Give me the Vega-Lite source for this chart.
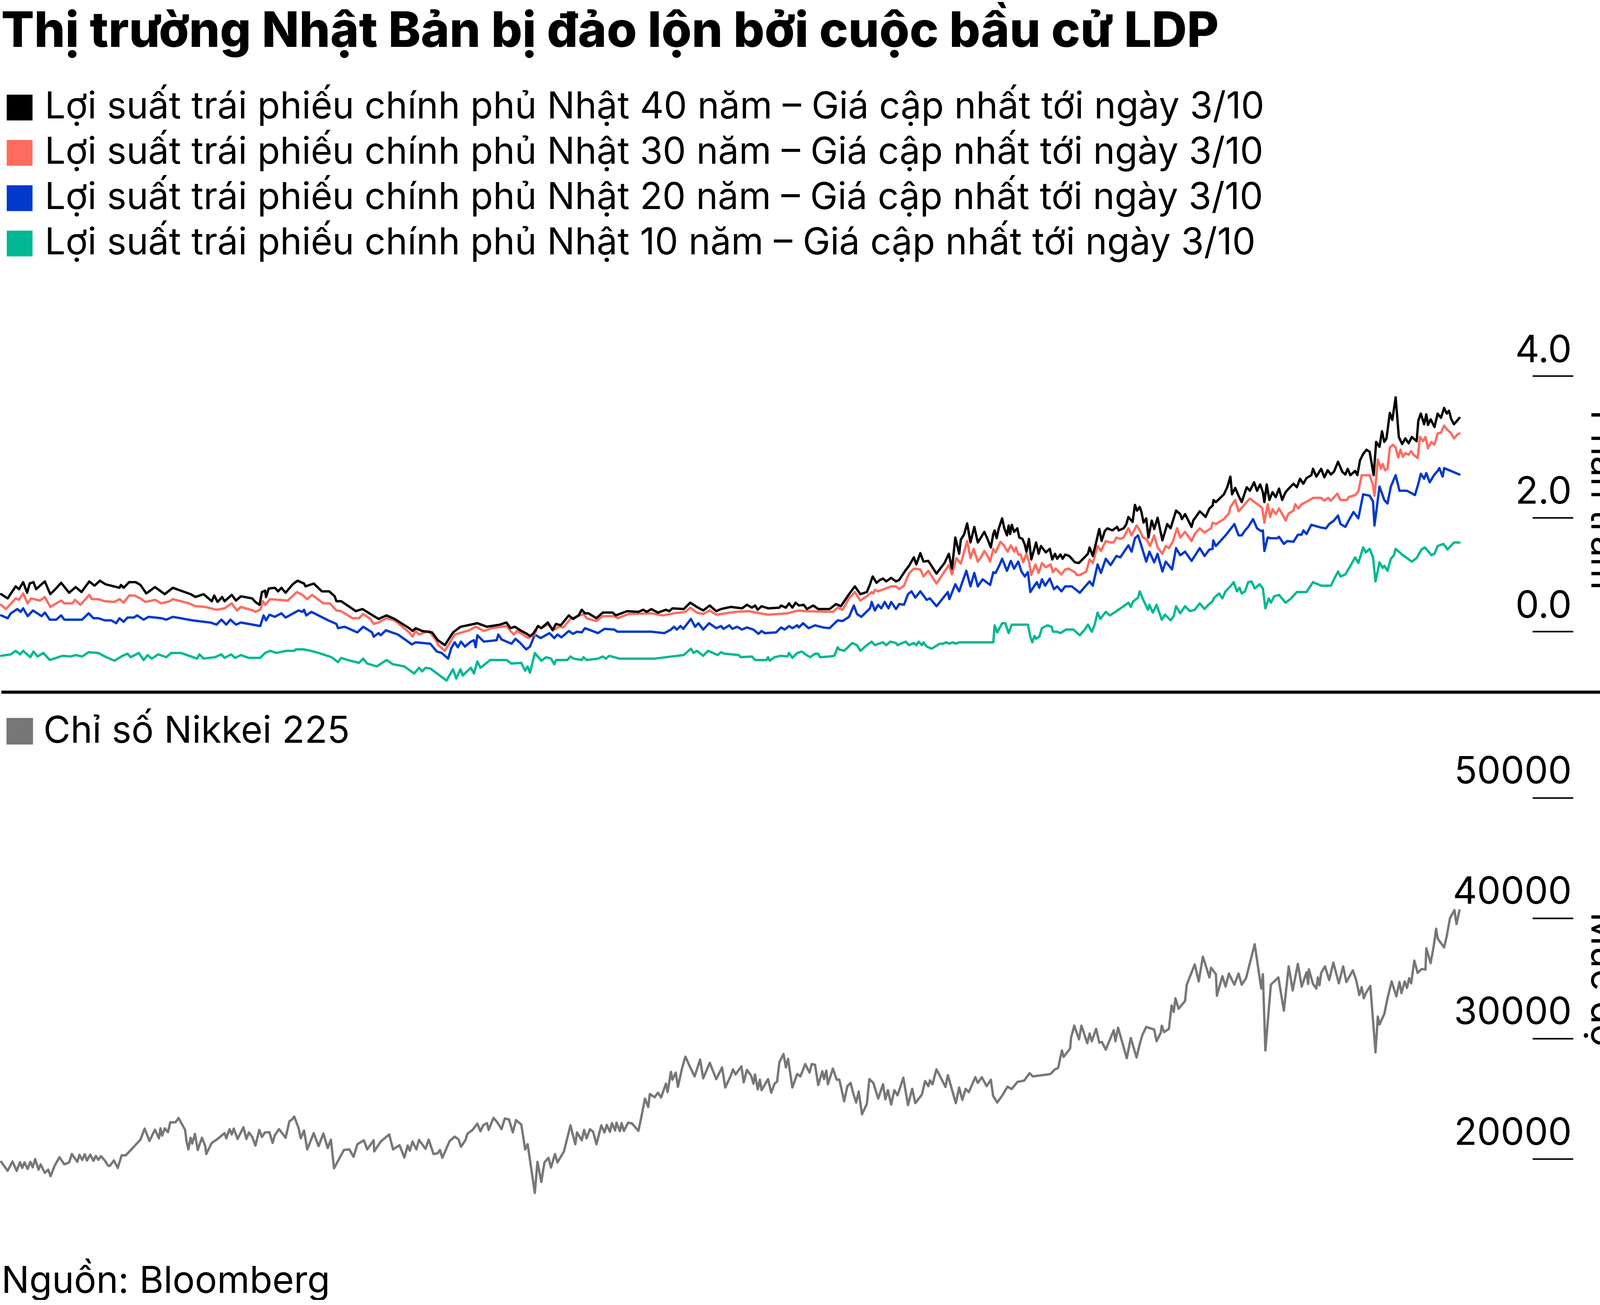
{
  "$schema": "https://vega.github.io/schema/vega-lite/v6.json",
  "description": "Lợi suất trái phiếu chính phủ Nhật và chỉ số Nikkei 225, 2017 - 3/10/2025",
  "padding": {"top": 20, "left": 0, "right": 0, "bottom": 0},
  "background": "white",
  "title": {
    "text": "Thị trường Nhật Bản bị đảo lộn bởi cuộc bầu cử LDP",
    "anchor": "start",
    "frame": "group",
    "font": "Inter",
    "fontSize": 125,
    "fontWeight": 800,
    "color": "#000000",
    "baseline": "top",
    "offset": 82
  },
  "config": {
    "view": {"stroke": null},
    "font": "Inter"
  },
  "spacing": 240,
  "bounds": "flush",
  "resolve": {
    "scale": {"color": "independent", "y": "independent", "x": "independent"},
    "legend": {"color": "independent"}
  },
  "datasets": {
    "loisuat": [
      {"nam": 2017.000, "ky": "10", "ls": 0.05},
      {"nam": 2017.058, "ky": "10", "ls": 0.07},
      {"nam": 2017.087, "ky": "10", "ls": 0.12},
      {"nam": 2017.113, "ky": "10", "ls": 0.07},
      {"nam": 2017.132, "ky": "10", "ls": 0.12},
      {"nam": 2017.175, "ky": "10", "ls": 0.03},
      {"nam": 2017.194, "ky": "10", "ls": 0.11},
      {"nam": 2017.218, "ky": "10", "ls": 0.04},
      {"nam": 2017.253, "ky": "10", "ls": 0.09},
      {"nam": 2017.292, "ky": "10", "ls": -0.01},
      {"nam": 2017.330, "ky": "10", "ls": 0.02},
      {"nam": 2017.369, "ky": "10", "ls": 0.05},
      {"nam": 2017.418, "ky": "10", "ls": 0.04},
      {"nam": 2017.447, "ky": "10", "ls": 0.06},
      {"nam": 2017.486, "ky": "10", "ls": 0.04},
      {"nam": 2017.525, "ky": "10", "ls": 0.10},
      {"nam": 2017.583, "ky": "10", "ls": 0.09},
      {"nam": 2017.622, "ky": "10", "ls": 0.04},
      {"nam": 2017.680, "ky": "10", "ls": -0.02},
      {"nam": 2017.729, "ky": "10", "ls": 0.05},
      {"nam": 2017.758, "ky": "10", "ls": 0.08},
      {"nam": 2017.778, "ky": "10", "ls": 0.03},
      {"nam": 2017.826, "ky": "10", "ls": 0.09},
      {"nam": 2017.855, "ky": "10", "ls": -0.01},
      {"nam": 2017.879, "ky": "10", "ls": 0.06},
      {"nam": 2017.904, "ky": "10", "ls": 0.01},
      {"nam": 2017.943, "ky": "10", "ls": 0.07},
      {"nam": 2017.991, "ky": "10", "ls": 0.03},
      {"nam": 2018.021, "ky": "10", "ls": 0.09},
      {"nam": 2018.079, "ky": "10", "ls": 0.09},
      {"nam": 2018.128, "ky": "10", "ls": 0.05},
      {"nam": 2018.176, "ky": "10", "ls": 0.01},
      {"nam": 2018.190, "ky": "10", "ls": 0.07},
      {"nam": 2018.215, "ky": "10", "ls": 0.01},
      {"nam": 2018.283, "ky": "10", "ls": 0.03},
      {"nam": 2018.322, "ky": "10", "ls": 0.07},
      {"nam": 2018.341, "ky": "10", "ls": 0.02},
      {"nam": 2018.380, "ky": "10", "ls": 0.07},
      {"nam": 2018.404, "ky": "10", "ls": 0.02},
      {"nam": 2018.439, "ky": "10", "ls": 0.06},
      {"nam": 2018.487, "ky": "10", "ls": 0.02},
      {"nam": 2018.555, "ky": "10", "ls": 0.02},
      {"nam": 2018.584, "ky": "10", "ls": 0.09},
      {"nam": 2018.614, "ky": "10", "ls": 0.12},
      {"nam": 2018.652, "ky": "10", "ls": 0.09},
      {"nam": 2018.711, "ky": "10", "ls": 0.12},
      {"nam": 2018.759, "ky": "10", "ls": 0.12},
      {"nam": 2018.769, "ky": "10", "ls": 0.14},
      {"nam": 2018.818, "ky": "10", "ls": 0.14},
      {"nam": 2018.857, "ky": "10", "ls": 0.12},
      {"nam": 2018.905, "ky": "10", "ls": 0.09},
      {"nam": 2018.983, "ky": "10", "ls": 0.03},
      {"nam": 2019.022, "ky": "10", "ls": -0.04},
      {"nam": 2019.041, "ky": "10", "ls": 0.02},
      {"nam": 2019.080, "ky": "10", "ls": -0.01},
      {"nam": 2019.148, "ky": "10", "ls": -0.05},
      {"nam": 2019.173, "ky": "10", "ls": 0.01},
      {"nam": 2019.197, "ky": "10", "ls": -0.06},
      {"nam": 2019.255, "ky": "10", "ls": -0.10},
      {"nam": 2019.313, "ky": "10", "ls": -0.01},
      {"nam": 2019.352, "ky": "10", "ls": -0.07},
      {"nam": 2019.420, "ky": "10", "ls": -0.10},
      {"nam": 2019.479, "ky": "10", "ls": -0.20},
      {"nam": 2019.508, "ky": "10", "ls": -0.12},
      {"nam": 2019.527, "ky": "10", "ls": -0.17},
      {"nam": 2019.547, "ky": "10", "ls": -0.12},
      {"nam": 2019.576, "ky": "10", "ls": -0.13},
      {"nam": 2019.673, "ky": "10", "ls": -0.30},
      {"nam": 2019.712, "ky": "10", "ls": -0.14},
      {"nam": 2019.731, "ky": "10", "ls": -0.27},
      {"nam": 2019.757, "ky": "10", "ls": -0.14},
      {"nam": 2019.770, "ky": "10", "ls": -0.23},
      {"nam": 2019.819, "ky": "10", "ls": -0.12},
      {"nam": 2019.838, "ky": "10", "ls": -0.20},
      {"nam": 2019.858, "ky": "10", "ls": -0.03},
      {"nam": 2019.877, "ky": "10", "ls": -0.12},
      {"nam": 2019.935, "ky": "10", "ls": -0.01},
      {"nam": 2019.994, "ky": "10", "ls": -0.01},
      {"nam": 2020.033, "ky": "10", "ls": -0.01},
      {"nam": 2020.063, "ky": "10", "ls": -0.06},
      {"nam": 2020.122, "ky": "10", "ls": -0.05},
      {"nam": 2020.145, "ky": "10", "ls": -0.16},
      {"nam": 2020.160, "ky": "10", "ls": -0.10},
      {"nam": 2020.174, "ky": "10", "ls": -0.19},
      {"nam": 2020.203, "ky": "10", "ls": 0.09},
      {"nam": 2020.242, "ky": "10", "ls": -0.02},
      {"nam": 2020.271, "ky": "10", "ls": 0.03},
      {"nam": 2020.300, "ky": "10", "ls": 0.01},
      {"nam": 2020.320, "ky": "10", "ls": -0.07},
      {"nam": 2020.330, "ky": "10", "ls": -0.01},
      {"nam": 2020.398, "ky": "10", "ls": -0.01},
      {"nam": 2020.417, "ky": "10", "ls": 0.04},
      {"nam": 2020.436, "ky": "10", "ls": 0.01},
      {"nam": 2020.485, "ky": "10", "ls": -0.01},
      {"nam": 2020.495, "ky": "10", "ls": 0.03},
      {"nam": 2020.514, "ky": "10", "ls": -0.01},
      {"nam": 2020.582, "ky": "10", "ls": 0.01},
      {"nam": 2020.611, "ky": "10", "ls": 0.04},
      {"nam": 2020.631, "ky": "10", "ls": 0.01},
      {"nam": 2020.650, "ky": "10", "ls": 0.05},
      {"nam": 2020.709, "ky": "10", "ls": 0.01},
      {"nam": 2020.922, "ky": "10", "ls": 0.01},
      {"nam": 2021.097, "ky": "10", "ls": 0.06},
      {"nam": 2021.140, "ky": "10", "ls": 0.15},
      {"nam": 2021.156, "ky": "10", "ls": 0.09},
      {"nam": 2021.175, "ky": "10", "ls": 0.12},
      {"nam": 2021.214, "ky": "10", "ls": 0.05},
      {"nam": 2021.243, "ky": "10", "ls": 0.12},
      {"nam": 2021.301, "ky": "10", "ls": 0.06},
      {"nam": 2021.321, "ky": "10", "ls": 0.10},
      {"nam": 2021.340, "ky": "10", "ls": 0.08},
      {"nam": 2021.428, "ky": "10", "ls": 0.06},
      {"nam": 2021.438, "ky": "10", "ls": 0.03},
      {"nam": 2021.506, "ky": "10", "ls": 0.04},
      {"nam": 2021.525, "ky": "10", "ls": -0.01},
      {"nam": 2021.593, "ky": "10", "ls": -0.01},
      {"nam": 2021.603, "ky": "10", "ls": 0.03},
      {"nam": 2021.613, "ky": "10", "ls": -0.02},
      {"nam": 2021.642, "ky": "10", "ls": 0.03},
      {"nam": 2021.681, "ky": "10", "ls": 0.05},
      {"nam": 2021.719, "ky": "10", "ls": 0.04},
      {"nam": 2021.729, "ky": "10", "ls": 0.09},
      {"nam": 2021.749, "ky": "10", "ls": 0.02},
      {"nam": 2021.778, "ky": "10", "ls": 0.09},
      {"nam": 2021.807, "ky": "10", "ls": 0.11},
      {"nam": 2021.827, "ky": "10", "ls": 0.07},
      {"nam": 2021.856, "ky": "10", "ls": 0.03},
      {"nam": 2021.885, "ky": "10", "ls": 0.08},
      {"nam": 2021.904, "ky": "10", "ls": 0.08},
      {"nam": 2021.914, "ky": "10", "ls": 0.03},
      {"nam": 2021.972, "ky": "10", "ls": 0.04},
      {"nam": 2022.001, "ky": "10", "ls": 0.05},
      {"nam": 2022.021, "ky": "10", "ls": 0.17},
      {"nam": 2022.031, "ky": "10", "ls": 0.14},
      {"nam": 2022.060, "ky": "10", "ls": 0.12},
      {"nam": 2022.108, "ky": "10", "ls": 0.23},
      {"nam": 2022.137, "ky": "10", "ls": 0.20},
      {"nam": 2022.157, "ky": "10", "ls": 0.12},
      {"nam": 2022.196, "ky": "10", "ls": 0.20},
      {"nam": 2022.225, "ky": "10", "ls": 0.25},
      {"nam": 2022.244, "ky": "10", "ls": 0.20},
      {"nam": 2022.293, "ky": "10", "ls": 0.24},
      {"nam": 2022.312, "ky": "10", "ls": 0.20},
      {"nam": 2022.338, "ky": "10", "ls": 0.25},
      {"nam": 2022.371, "ky": "10", "ls": 0.23},
      {"nam": 2022.380, "ky": "10", "ls": 0.20},
      {"nam": 2022.410, "ky": "10", "ls": 0.23},
      {"nam": 2022.429, "ky": "10", "ls": 0.25},
      {"nam": 2022.449, "ky": "10", "ls": 0.20},
      {"nam": 2022.478, "ky": "10", "ls": 0.23},
      {"nam": 2022.493, "ky": "10", "ls": 0.20},
      {"nam": 2022.507, "ky": "10", "ls": 0.25},
      {"nam": 2022.526, "ky": "10", "ls": 0.20},
      {"nam": 2022.536, "ky": "10", "ls": 0.24},
      {"nam": 2022.555, "ky": "10", "ls": 0.18},
      {"nam": 2022.585, "ky": "10", "ls": 0.15},
      {"nam": 2022.633, "ky": "10", "ls": 0.22},
      {"nam": 2022.653, "ky": "10", "ls": 0.22},
      {"nam": 2022.672, "ky": "10", "ls": 0.24},
      {"nam": 2022.691, "ky": "10", "ls": 0.22},
      {"nam": 2022.711, "ky": "10", "ls": 0.24},
      {"nam": 2022.730, "ky": "10", "ls": 0.22},
      {"nam": 2022.750, "ky": "10", "ls": 0.24},
      {"nam": 2022.862, "ky": "10", "ls": 0.24},
      {"nam": 2022.955, "ky": "10", "ls": 0.24},
      {"nam": 2022.963, "ky": "10", "ls": 0.48},
      {"nam": 2022.979, "ky": "10", "ls": 0.38},
      {"nam": 2023.008, "ky": "10", "ls": 0.51},
      {"nam": 2023.027, "ky": "10", "ls": 0.51},
      {"nam": 2023.047, "ky": "10", "ls": 0.37},
      {"nam": 2023.066, "ky": "10", "ls": 0.49},
      {"nam": 2023.163, "ky": "10", "ls": 0.49},
      {"nam": 2023.177, "ky": "10", "ls": 0.32},
      {"nam": 2023.189, "ky": "10", "ls": 0.24},
      {"nam": 2023.202, "ky": "10", "ls": 0.33},
      {"nam": 2023.212, "ky": "10", "ls": 0.29},
      {"nam": 2023.231, "ky": "10", "ls": 0.32},
      {"nam": 2023.247, "ky": "10", "ls": 0.44},
      {"nam": 2023.280, "ky": "10", "ls": 0.48},
      {"nam": 2023.305, "ky": "10", "ls": 0.46},
      {"nam": 2023.313, "ky": "10", "ls": 0.39},
      {"nam": 2023.338, "ky": "10", "ls": 0.39},
      {"nam": 2023.358, "ky": "10", "ls": 0.37},
      {"nam": 2023.391, "ky": "10", "ls": 0.42},
      {"nam": 2023.435, "ky": "10", "ls": 0.42},
      {"nam": 2023.474, "ky": "10", "ls": 0.34},
      {"nam": 2023.504, "ky": "10", "ls": 0.42},
      {"nam": 2023.523, "ky": "10", "ls": 0.49},
      {"nam": 2023.546, "ky": "10", "ls": 0.39},
      {"nam": 2023.562, "ky": "10", "ls": 0.48},
      {"nam": 2023.581, "ky": "10", "ls": 0.66},
      {"nam": 2023.597, "ky": "10", "ls": 0.57},
      {"nam": 2023.630, "ky": "10", "ls": 0.67},
      {"nam": 2023.655, "ky": "10", "ls": 0.62},
      {"nam": 2023.688, "ky": "10", "ls": 0.67},
      {"nam": 2023.737, "ky": "10", "ls": 0.75},
      {"nam": 2023.766, "ky": "10", "ls": 0.80},
      {"nam": 2023.780, "ky": "10", "ls": 0.74},
      {"nam": 2023.795, "ky": "10", "ls": 0.82},
      {"nam": 2023.824, "ky": "10", "ls": 0.87},
      {"nam": 2023.834, "ky": "10", "ls": 0.96},
      {"nam": 2023.853, "ky": "10", "ls": 0.85},
      {"nam": 2023.883, "ky": "10", "ls": 0.70},
      {"nam": 2023.892, "ky": "10", "ls": 0.77},
      {"nam": 2023.912, "ky": "10", "ls": 0.66},
      {"nam": 2023.935, "ky": "10", "ls": 0.77},
      {"nam": 2023.966, "ky": "10", "ls": 0.56},
      {"nam": 2023.986, "ky": "10", "ls": 0.63},
      {"nam": 2024.019, "ky": "10", "ls": 0.55},
      {"nam": 2024.038, "ky": "10", "ls": 0.61},
      {"nam": 2024.052, "ky": "10", "ls": 0.75},
      {"nam": 2024.077, "ky": "10", "ls": 0.65},
      {"nam": 2024.106, "ky": "10", "ls": 0.75},
      {"nam": 2024.135, "ky": "10", "ls": 0.68},
      {"nam": 2024.164, "ky": "10", "ls": 0.70},
      {"nam": 2024.194, "ky": "10", "ls": 0.79},
      {"nam": 2024.223, "ky": "10", "ls": 0.71},
      {"nam": 2024.246, "ky": "10", "ls": 0.77},
      {"nam": 2024.271, "ky": "10", "ls": 0.82},
      {"nam": 2024.281, "ky": "10", "ls": 0.87},
      {"nam": 2024.310, "ky": "10", "ls": 0.93},
      {"nam": 2024.330, "ky": "10", "ls": 0.86},
      {"nam": 2024.349, "ky": "10", "ls": 0.96},
      {"nam": 2024.378, "ky": "10", "ls": 1.03},
      {"nam": 2024.398, "ky": "10", "ls": 1.09},
      {"nam": 2024.417, "ky": "10", "ls": 0.96},
      {"nam": 2024.433, "ky": "10", "ls": 1.01},
      {"nam": 2024.446, "ky": "10", "ls": 0.93},
      {"nam": 2024.466, "ky": "10", "ls": 0.96},
      {"nam": 2024.485, "ky": "10", "ls": 1.09},
      {"nam": 2024.505, "ky": "10", "ls": 1.10},
      {"nam": 2024.524, "ky": "10", "ls": 1.00},
      {"nam": 2024.553, "ky": "10", "ls": 1.06},
      {"nam": 2024.573, "ky": "10", "ls": 1.00},
      {"nam": 2024.588, "ky": "10", "ls": 0.72},
      {"nam": 2024.608, "ky": "10", "ls": 0.86},
      {"nam": 2024.621, "ky": "10", "ls": 0.80},
      {"nam": 2024.641, "ky": "10", "ls": 0.89},
      {"nam": 2024.670, "ky": "10", "ls": 0.91},
      {"nam": 2024.709, "ky": "10", "ls": 0.80},
      {"nam": 2024.738, "ky": "10", "ls": 0.85},
      {"nam": 2024.777, "ky": "10", "ls": 0.95},
      {"nam": 2024.835, "ky": "10", "ls": 0.95},
      {"nam": 2024.874, "ky": "10", "ls": 1.09},
      {"nam": 2024.923, "ky": "10", "ls": 1.04},
      {"nam": 2024.981, "ky": "10", "ls": 1.04},
      {"nam": 2025.000, "ky": "10", "ls": 1.13},
      {"nam": 2025.024, "ky": "10", "ls": 1.24},
      {"nam": 2025.039, "ky": "10", "ls": 1.17},
      {"nam": 2025.068, "ky": "10", "ls": 1.20},
      {"nam": 2025.098, "ky": "10", "ls": 1.32},
      {"nam": 2025.127, "ky": "10", "ls": 1.44},
      {"nam": 2025.146, "ky": "10", "ls": 1.36},
      {"nam": 2025.175, "ky": "10", "ls": 1.58},
      {"nam": 2025.191, "ky": "10", "ls": 1.51},
      {"nam": 2025.214, "ky": "10", "ls": 1.56},
      {"nam": 2025.234, "ky": "10", "ls": 1.44},
      {"nam": 2025.249, "ky": "10", "ls": 1.10},
      {"nam": 2025.273, "ky": "10", "ls": 1.37},
      {"nam": 2025.292, "ky": "10", "ls": 1.29},
      {"nam": 2025.302, "ky": "10", "ls": 1.32},
      {"nam": 2025.321, "ky": "10", "ls": 1.25},
      {"nam": 2025.341, "ky": "10", "ls": 1.42},
      {"nam": 2025.360, "ky": "10", "ls": 1.47},
      {"nam": 2025.370, "ky": "10", "ls": 1.56},
      {"nam": 2025.409, "ky": "10", "ls": 1.48},
      {"nam": 2025.438, "ky": "10", "ls": 1.43},
      {"nam": 2025.467, "ky": "10", "ls": 1.38},
      {"nam": 2025.496, "ky": "10", "ls": 1.43},
      {"nam": 2025.525, "ky": "10", "ls": 1.55},
      {"nam": 2025.545, "ky": "10", "ls": 1.58},
      {"nam": 2025.564, "ky": "10", "ls": 1.53},
      {"nam": 2025.584, "ky": "10", "ls": 1.47},
      {"nam": 2025.603, "ky": "10", "ls": 1.49},
      {"nam": 2025.622, "ky": "10", "ls": 1.60},
      {"nam": 2025.657, "ky": "10", "ls": 1.63},
      {"nam": 2025.681, "ky": "10", "ls": 1.55},
      {"nam": 2025.720, "ky": "10", "ls": 1.65},
      {"nam": 2025.753, "ky": "10", "ls": 1.65},

      {"nam": 2017.000, "ky": "20", "ls": 0.62},
      {"nam": 2017.039, "ky": "20", "ls": 0.58},
      {"nam": 2017.058, "ky": "20", "ls": 0.65},
      {"nam": 2017.097, "ky": "20", "ls": 0.71},
      {"nam": 2017.117, "ky": "20", "ls": 0.67},
      {"nam": 2017.132, "ky": "20", "ls": 0.72},
      {"nam": 2017.159, "ky": "20", "ls": 0.61},
      {"nam": 2017.191, "ky": "20", "ls": 0.69},
      {"nam": 2017.243, "ky": "20", "ls": 0.61},
      {"nam": 2017.262, "ky": "20", "ls": 0.66},
      {"nam": 2017.292, "ky": "20", "ls": 0.56},
      {"nam": 2017.330, "ky": "20", "ls": 0.56},
      {"nam": 2017.360, "ky": "20", "ls": 0.62},
      {"nam": 2017.379, "ky": "20", "ls": 0.56},
      {"nam": 2017.486, "ky": "20", "ls": 0.56},
      {"nam": 2017.525, "ky": "20", "ls": 0.65},
      {"nam": 2017.554, "ky": "20", "ls": 0.58},
      {"nam": 2017.583, "ky": "20", "ls": 0.58},
      {"nam": 2017.622, "ky": "20", "ls": 0.55},
      {"nam": 2017.661, "ky": "20", "ls": 0.55},
      {"nam": 2017.690, "ky": "20", "ls": 0.51},
      {"nam": 2017.710, "ky": "20", "ls": 0.58},
      {"nam": 2017.735, "ky": "20", "ls": 0.53},
      {"nam": 2017.758, "ky": "20", "ls": 0.59},
      {"nam": 2017.797, "ky": "20", "ls": 0.59},
      {"nam": 2017.816, "ky": "20", "ls": 0.62},
      {"nam": 2017.855, "ky": "20", "ls": 0.56},
      {"nam": 2017.885, "ky": "20", "ls": 0.60},
      {"nam": 2017.962, "ky": "20", "ls": 0.58},
      {"nam": 2017.991, "ky": "20", "ls": 0.56},
      {"nam": 2018.030, "ky": "20", "ls": 0.60},
      {"nam": 2018.079, "ky": "20", "ls": 0.58},
      {"nam": 2018.147, "ky": "20", "ls": 0.55},
      {"nam": 2018.254, "ky": "20", "ls": 0.52},
      {"nam": 2018.293, "ky": "20", "ls": 0.49},
      {"nam": 2018.322, "ky": "20", "ls": 0.56},
      {"nam": 2018.351, "ky": "20", "ls": 0.49},
      {"nam": 2018.376, "ky": "20", "ls": 0.56},
      {"nam": 2018.409, "ky": "20", "ls": 0.49},
      {"nam": 2018.439, "ky": "20", "ls": 0.52},
      {"nam": 2018.555, "ky": "20", "ls": 0.47},
      {"nam": 2018.575, "ky": "20", "ls": 0.62},
      {"nam": 2018.590, "ky": "20", "ls": 0.55},
      {"nam": 2018.610, "ky": "20", "ls": 0.63},
      {"nam": 2018.643, "ky": "20", "ls": 0.60},
      {"nam": 2018.682, "ky": "20", "ls": 0.65},
      {"nam": 2018.707, "ky": "20", "ls": 0.59},
      {"nam": 2018.785, "ky": "20", "ls": 0.69},
      {"nam": 2018.808, "ky": "20", "ls": 0.67},
      {"nam": 2018.818, "ky": "20", "ls": 0.70},
      {"nam": 2018.831, "ky": "20", "ls": 0.62},
      {"nam": 2018.862, "ky": "20", "ls": 0.67},
      {"nam": 2018.963, "ky": "20", "ls": 0.55},
      {"nam": 2019.012, "ky": "20", "ls": 0.50},
      {"nam": 2019.022, "ky": "20", "ls": 0.44},
      {"nam": 2019.061, "ky": "20", "ls": 0.46},
      {"nam": 2019.138, "ky": "20", "ls": 0.38},
      {"nam": 2019.173, "ky": "20", "ls": 0.46},
      {"nam": 2019.226, "ky": "20", "ls": 0.38},
      {"nam": 2019.236, "ky": "20", "ls": 0.32},
      {"nam": 2019.265, "ky": "20", "ls": 0.37},
      {"nam": 2019.278, "ky": "20", "ls": 0.34},
      {"nam": 2019.309, "ky": "20", "ls": 0.41},
      {"nam": 2019.381, "ky": "20", "ls": 0.35},
      {"nam": 2019.430, "ky": "20", "ls": 0.27},
      {"nam": 2019.465, "ky": "20", "ls": 0.21},
      {"nam": 2019.488, "ky": "20", "ls": 0.24},
      {"nam": 2019.576, "ky": "20", "ls": 0.22},
      {"nam": 2019.615, "ky": "20", "ls": 0.11},
      {"nam": 2019.644, "ky": "20", "ls": 0.09},
      {"nam": 2019.683, "ky": "20", "ls": 0.01},
      {"nam": 2019.702, "ky": "20", "ls": 0.16},
      {"nam": 2019.722, "ky": "20", "ls": 0.24},
      {"nam": 2019.741, "ky": "20", "ls": 0.17},
      {"nam": 2019.760, "ky": "20", "ls": 0.25},
      {"nam": 2019.784, "ky": "20", "ls": 0.18},
      {"nam": 2019.819, "ky": "20", "ls": 0.25},
      {"nam": 2019.838, "ky": "20", "ls": 0.27},
      {"nam": 2019.848, "ky": "20", "ls": 0.17},
      {"nam": 2019.858, "ky": "20", "ls": 0.34},
      {"nam": 2019.897, "ky": "20", "ls": 0.25},
      {"nam": 2019.974, "ky": "20", "ls": 0.27},
      {"nam": 2019.984, "ky": "20", "ls": 0.35},
      {"nam": 2020.004, "ky": "20", "ls": 0.28},
      {"nam": 2020.063, "ky": "20", "ls": 0.22},
      {"nam": 2020.087, "ky": "20", "ls": 0.29},
      {"nam": 2020.116, "ky": "20", "ls": 0.23},
      {"nam": 2020.151, "ky": "20", "ls": 0.14},
      {"nam": 2020.174, "ky": "20", "ls": 0.18},
      {"nam": 2020.203, "ky": "20", "ls": 0.35},
      {"nam": 2020.238, "ky": "20", "ls": 0.30},
      {"nam": 2020.291, "ky": "20", "ls": 0.37},
      {"nam": 2020.320, "ky": "20", "ls": 0.30},
      {"nam": 2020.339, "ky": "20", "ls": 0.35},
      {"nam": 2020.363, "ky": "20", "ls": 0.31},
      {"nam": 2020.407, "ky": "20", "ls": 0.40},
      {"nam": 2020.433, "ky": "20", "ls": 0.36},
      {"nam": 2020.456, "ky": "20", "ls": 0.39},
      {"nam": 2020.485, "ky": "20", "ls": 0.38},
      {"nam": 2020.504, "ky": "20", "ls": 0.44},
      {"nam": 2020.582, "ky": "20", "ls": 0.37},
      {"nam": 2020.621, "ky": "20", "ls": 0.43},
      {"nam": 2020.679, "ky": "20", "ls": 0.42},
      {"nam": 2020.699, "ky": "20", "ls": 0.39},
      {"nam": 2020.903, "ky": "20", "ls": 0.39},
      {"nam": 2020.981, "ky": "20", "ls": 0.37},
      {"nam": 2021.020, "ky": "20", "ls": 0.42},
      {"nam": 2021.039, "ky": "20", "ls": 0.46},
      {"nam": 2021.055, "ky": "20", "ls": 0.42},
      {"nam": 2021.078, "ky": "20", "ls": 0.47},
      {"nam": 2021.094, "ky": "20", "ls": 0.43},
      {"nam": 2021.140, "ky": "20", "ls": 0.57},
      {"nam": 2021.165, "ky": "20", "ls": 0.46},
      {"nam": 2021.185, "ky": "20", "ls": 0.51},
      {"nam": 2021.214, "ky": "20", "ls": 0.42},
      {"nam": 2021.249, "ky": "20", "ls": 0.51},
      {"nam": 2021.292, "ky": "20", "ls": 0.44},
      {"nam": 2021.321, "ky": "20", "ls": 0.47},
      {"nam": 2021.335, "ky": "20", "ls": 0.43},
      {"nam": 2021.370, "ky": "20", "ls": 0.48},
      {"nam": 2021.389, "ky": "20", "ls": 0.43},
      {"nam": 2021.418, "ky": "20", "ls": 0.46},
      {"nam": 2021.447, "ky": "20", "ls": 0.42},
      {"nam": 2021.476, "ky": "20", "ls": 0.45},
      {"nam": 2021.515, "ky": "20", "ls": 0.42},
      {"nam": 2021.545, "ky": "20", "ls": 0.36},
      {"nam": 2021.564, "ky": "20", "ls": 0.40},
      {"nam": 2021.583, "ky": "20", "ls": 0.37},
      {"nam": 2021.651, "ky": "20", "ls": 0.38},
      {"nam": 2021.681, "ky": "20", "ls": 0.45},
      {"nam": 2021.704, "ky": "20", "ls": 0.42},
      {"nam": 2021.729, "ky": "20", "ls": 0.47},
      {"nam": 2021.749, "ky": "20", "ls": 0.44},
      {"nam": 2021.778, "ky": "20", "ls": 0.48},
      {"nam": 2021.788, "ky": "20", "ls": 0.45},
      {"nam": 2021.813, "ky": "20", "ls": 0.51},
      {"nam": 2021.846, "ky": "20", "ls": 0.44},
      {"nam": 2021.885, "ky": "20", "ls": 0.48},
      {"nam": 2021.933, "ky": "20", "ls": 0.45},
      {"nam": 2021.972, "ky": "20", "ls": 0.44},
      {"nam": 2022.021, "ky": "20", "ls": 0.55},
      {"nam": 2022.050, "ky": "20", "ls": 0.54},
      {"nam": 2022.089, "ky": "20", "ls": 0.60},
      {"nam": 2022.118, "ky": "20", "ls": 0.76},
      {"nam": 2022.137, "ky": "20", "ls": 0.64},
      {"nam": 2022.163, "ky": "20", "ls": 0.60},
      {"nam": 2022.215, "ky": "20", "ls": 0.72},
      {"nam": 2022.225, "ky": "20", "ls": 0.81},
      {"nam": 2022.244, "ky": "20", "ls": 0.69},
      {"nam": 2022.264, "ky": "20", "ls": 0.77},
      {"nam": 2022.283, "ky": "20", "ls": 0.72},
      {"nam": 2022.303, "ky": "20", "ls": 0.81},
      {"nam": 2022.326, "ky": "20", "ls": 0.72},
      {"nam": 2022.342, "ky": "20", "ls": 0.81},
      {"nam": 2022.371, "ky": "20", "ls": 0.71},
      {"nam": 2022.390, "ky": "20", "ls": 0.78},
      {"nam": 2022.419, "ky": "20", "ls": 0.77},
      {"nam": 2022.443, "ky": "20", "ls": 0.92},
      {"nam": 2022.464, "ky": "20", "ls": 0.96},
      {"nam": 2022.487, "ky": "20", "ls": 0.87},
      {"nam": 2022.517, "ky": "20", "ls": 0.96},
      {"nam": 2022.555, "ky": "20", "ls": 0.84},
      {"nam": 2022.575, "ky": "20", "ls": 0.86},
      {"nam": 2022.614, "ky": "20", "ls": 0.75},
      {"nam": 2022.682, "ky": "20", "ls": 0.95},
      {"nam": 2022.691, "ky": "20", "ls": 0.85},
      {"nam": 2022.727, "ky": "20", "ls": 1.06},
      {"nam": 2022.750, "ky": "20", "ls": 0.96},
      {"nam": 2022.793, "ky": "20", "ls": 1.25},
      {"nam": 2022.818, "ky": "20", "ls": 1.03},
      {"nam": 2022.841, "ky": "20", "ls": 1.22},
      {"nam": 2022.862, "ky": "20", "ls": 1.03},
      {"nam": 2022.891, "ky": "20", "ls": 1.13},
      {"nam": 2022.936, "ky": "20", "ls": 1.05},
      {"nam": 2022.955, "ky": "20", "ls": 1.23},
      {"nam": 2022.969, "ky": "20", "ls": 1.22},
      {"nam": 2022.994, "ky": "20", "ls": 1.34},
      {"nam": 2023.008, "ky": "20", "ls": 1.42},
      {"nam": 2023.037, "ky": "20", "ls": 1.25},
      {"nam": 2023.060, "ky": "20", "ls": 1.39},
      {"nam": 2023.080, "ky": "20", "ls": 1.28},
      {"nam": 2023.105, "ky": "20", "ls": 1.38},
      {"nam": 2023.124, "ky": "20", "ls": 1.24},
      {"nam": 2023.144, "ky": "20", "ls": 1.17},
      {"nam": 2023.163, "ky": "20", "ls": 1.23},
      {"nam": 2023.177, "ky": "20", "ls": 0.95},
      {"nam": 2023.216, "ky": "20", "ls": 1.09},
      {"nam": 2023.231, "ky": "20", "ls": 1.01},
      {"nam": 2023.247, "ky": "20", "ls": 1.13},
      {"nam": 2023.266, "ky": "20", "ls": 1.04},
      {"nam": 2023.294, "ky": "20", "ls": 1.14},
      {"nam": 2023.319, "ky": "20", "ls": 0.99},
      {"nam": 2023.338, "ky": "20", "ls": 1.03},
      {"nam": 2023.364, "ky": "20", "ls": 0.96},
      {"nam": 2023.387, "ky": "20", "ls": 1.03},
      {"nam": 2023.426, "ky": "20", "ls": 1.03},
      {"nam": 2023.474, "ky": "20", "ls": 0.94},
      {"nam": 2023.533, "ky": "20", "ls": 1.10},
      {"nam": 2023.552, "ky": "20", "ls": 1.04},
      {"nam": 2023.581, "ky": "20", "ls": 1.34},
      {"nam": 2023.601, "ky": "20", "ls": 1.22},
      {"nam": 2023.630, "ky": "20", "ls": 1.42},
      {"nam": 2023.659, "ky": "20", "ls": 1.33},
      {"nam": 2023.694, "ky": "20", "ls": 1.46},
      {"nam": 2023.717, "ky": "20", "ls": 1.44},
      {"nam": 2023.766, "ky": "20", "ls": 1.61},
      {"nam": 2023.785, "ky": "20", "ls": 1.52},
      {"nam": 2023.805, "ky": "20", "ls": 1.71},
      {"nam": 2023.824, "ky": "20", "ls": 1.75},
      {"nam": 2023.844, "ky": "20", "ls": 1.60},
      {"nam": 2023.873, "ky": "20", "ls": 1.38},
      {"nam": 2023.892, "ky": "20", "ls": 1.52},
      {"nam": 2023.921, "ky": "20", "ls": 1.37},
      {"nam": 2023.941, "ky": "20", "ls": 1.49},
      {"nam": 2023.970, "ky": "20", "ls": 1.24},
      {"nam": 2023.990, "ky": "20", "ls": 1.38},
      {"nam": 2024.028, "ky": "20", "ls": 1.27},
      {"nam": 2024.052, "ky": "20", "ls": 1.57},
      {"nam": 2024.077, "ky": "20", "ls": 1.47},
      {"nam": 2024.106, "ky": "20", "ls": 1.52},
      {"nam": 2024.145, "ky": "20", "ls": 1.39},
      {"nam": 2024.194, "ky": "20", "ls": 1.57},
      {"nam": 2024.223, "ky": "20", "ls": 1.46},
      {"nam": 2024.252, "ky": "20", "ls": 1.55},
      {"nam": 2024.271, "ky": "20", "ls": 1.56},
      {"nam": 2024.275, "ky": "20", "ls": 1.68},
      {"nam": 2024.291, "ky": "20", "ls": 1.60},
      {"nam": 2024.349, "ky": "20", "ls": 1.75},
      {"nam": 2024.369, "ky": "20", "ls": 1.81},
      {"nam": 2024.402, "ky": "20", "ls": 1.91},
      {"nam": 2024.427, "ky": "20", "ls": 1.75},
      {"nam": 2024.446, "ky": "20", "ls": 1.75},
      {"nam": 2024.466, "ky": "20", "ls": 1.82},
      {"nam": 2024.485, "ky": "20", "ls": 1.87},
      {"nam": 2024.514, "ky": "20", "ls": 1.98},
      {"nam": 2024.538, "ky": "20", "ls": 1.85},
      {"nam": 2024.563, "ky": "20", "ls": 1.81},
      {"nam": 2024.573, "ky": "20", "ls": 1.82},
      {"nam": 2024.582, "ky": "20", "ls": 1.53},
      {"nam": 2024.602, "ky": "20", "ls": 1.72},
      {"nam": 2024.621, "ky": "20", "ls": 1.71},
      {"nam": 2024.660, "ky": "20", "ls": 1.71},
      {"nam": 2024.670, "ky": "20", "ls": 1.73},
      {"nam": 2024.699, "ky": "20", "ls": 1.63},
      {"nam": 2024.719, "ky": "20", "ls": 1.67},
      {"nam": 2024.757, "ky": "20", "ls": 1.66},
      {"nam": 2024.783, "ky": "20", "ls": 1.76},
      {"nam": 2024.806, "ky": "20", "ls": 1.76},
      {"nam": 2024.816, "ky": "20", "ls": 1.82},
      {"nam": 2024.835, "ky": "20", "ls": 1.77},
      {"nam": 2024.864, "ky": "20", "ls": 1.90},
      {"nam": 2024.923, "ky": "20", "ls": 1.86},
      {"nam": 2024.952, "ky": "20", "ls": 1.85},
      {"nam": 2024.971, "ky": "20", "ls": 1.91},
      {"nam": 2025.000, "ky": "20", "ls": 1.96},
      {"nam": 2025.024, "ky": "20", "ls": 2.03},
      {"nam": 2025.039, "ky": "20", "ls": 1.91},
      {"nam": 2025.068, "ky": "20", "ls": 1.87},
      {"nam": 2025.088, "ky": "20", "ls": 1.96},
      {"nam": 2025.117, "ky": "20", "ls": 2.08},
      {"nam": 2025.146, "ky": "20", "ls": 1.99},
      {"nam": 2025.175, "ky": "20", "ls": 2.33},
      {"nam": 2025.214, "ky": "20", "ls": 2.31},
      {"nam": 2025.234, "ky": "20", "ls": 2.23},
      {"nam": 2025.243, "ky": "20", "ls": 1.89},
      {"nam": 2025.273, "ky": "20", "ls": 2.44},
      {"nam": 2025.302, "ky": "20", "ls": 2.25},
      {"nam": 2025.321, "ky": "20", "ls": 2.20},
      {"nam": 2025.341, "ky": "20", "ls": 2.44},
      {"nam": 2025.370, "ky": "20", "ls": 2.60},
      {"nam": 2025.393, "ky": "20", "ls": 2.38},
      {"nam": 2025.413, "ky": "20", "ls": 2.38},
      {"nam": 2025.438, "ky": "20", "ls": 2.38},
      {"nam": 2025.486, "ky": "20", "ls": 2.32},
      {"nam": 2025.506, "ky": "20", "ls": 2.48},
      {"nam": 2025.521, "ky": "20", "ls": 2.62},
      {"nam": 2025.541, "ky": "20", "ls": 2.55},
      {"nam": 2025.554, "ky": "20", "ls": 2.63},
      {"nam": 2025.574, "ky": "20", "ls": 2.50},
      {"nam": 2025.603, "ky": "20", "ls": 2.61},
      {"nam": 2025.622, "ky": "20", "ls": 2.66},
      {"nam": 2025.632, "ky": "20", "ls": 2.70},
      {"nam": 2025.652, "ky": "20", "ls": 2.58},
      {"nam": 2025.661, "ky": "20", "ls": 2.70},
      {"nam": 2025.753, "ky": "20", "ls": 2.61},

      {"nam": 2017.000, "ky": "30", "ls": 0.77},
      {"nam": 2017.029, "ky": "30", "ls": 0.71},
      {"nam": 2017.087, "ky": "30", "ls": 0.86},
      {"nam": 2017.107, "ky": "30", "ls": 0.84},
      {"nam": 2017.132, "ky": "30", "ls": 0.93},
      {"nam": 2017.159, "ky": "30", "ls": 0.79},
      {"nam": 2017.179, "ky": "30", "ls": 0.86},
      {"nam": 2017.233, "ky": "30", "ls": 0.83},
      {"nam": 2017.262, "ky": "30", "ls": 0.88},
      {"nam": 2017.295, "ky": "30", "ls": 0.74},
      {"nam": 2017.360, "ky": "30", "ls": 0.83},
      {"nam": 2017.379, "ky": "30", "ls": 0.79},
      {"nam": 2017.428, "ky": "30", "ls": 0.79},
      {"nam": 2017.443, "ky": "30", "ls": 0.84},
      {"nam": 2017.476, "ky": "30", "ls": 0.77},
      {"nam": 2017.529, "ky": "30", "ls": 0.91},
      {"nam": 2017.544, "ky": "30", "ls": 0.85},
      {"nam": 2017.583, "ky": "30", "ls": 0.85},
      {"nam": 2017.622, "ky": "30", "ls": 0.82},
      {"nam": 2017.680, "ky": "30", "ls": 0.81},
      {"nam": 2017.710, "ky": "30", "ls": 0.85},
      {"nam": 2017.735, "ky": "30", "ls": 0.80},
      {"nam": 2017.768, "ky": "30", "ls": 0.90},
      {"nam": 2017.801, "ky": "30", "ls": 0.90},
      {"nam": 2017.836, "ky": "30", "ls": 0.86},
      {"nam": 2017.865, "ky": "30", "ls": 0.81},
      {"nam": 2017.923, "ky": "30", "ls": 0.84},
      {"nam": 2017.962, "ky": "30", "ls": 0.79},
      {"nam": 2018.011, "ky": "30", "ls": 0.82},
      {"nam": 2018.030, "ky": "30", "ls": 0.85},
      {"nam": 2018.128, "ky": "30", "ls": 0.79},
      {"nam": 2018.166, "ky": "30", "ls": 0.75},
      {"nam": 2018.225, "ky": "30", "ls": 0.74},
      {"nam": 2018.293, "ky": "30", "ls": 0.70},
      {"nam": 2018.341, "ky": "30", "ls": 0.72},
      {"nam": 2018.384, "ky": "30", "ls": 0.79},
      {"nam": 2018.415, "ky": "30", "ls": 0.69},
      {"nam": 2018.439, "ky": "30", "ls": 0.74},
      {"nam": 2018.512, "ky": "30", "ls": 0.69},
      {"nam": 2018.526, "ky": "30", "ls": 0.67},
      {"nam": 2018.555, "ky": "30", "ls": 0.70},
      {"nam": 2018.571, "ky": "30", "ls": 0.82},
      {"nam": 2018.584, "ky": "30", "ls": 0.77},
      {"nam": 2018.614, "ky": "30", "ls": 0.85},
      {"nam": 2018.720, "ky": "30", "ls": 0.83},
      {"nam": 2018.775, "ky": "30", "ls": 0.95},
      {"nam": 2018.808, "ky": "30", "ls": 0.91},
      {"nam": 2018.837, "ky": "30", "ls": 0.85},
      {"nam": 2018.866, "ky": "30", "ls": 0.91},
      {"nam": 2018.934, "ky": "30", "ls": 0.79},
      {"nam": 2018.973, "ky": "30", "ls": 0.79},
      {"nam": 2019.012, "ky": "30", "ls": 0.69},
      {"nam": 2019.041, "ky": "30", "ls": 0.68},
      {"nam": 2019.109, "ky": "30", "ls": 0.58},
      {"nam": 2019.148, "ky": "30", "ls": 0.58},
      {"nam": 2019.173, "ky": "30", "ls": 0.64},
      {"nam": 2019.216, "ky": "30", "ls": 0.57},
      {"nam": 2019.236, "ky": "30", "ls": 0.50},
      {"nam": 2019.265, "ky": "30", "ls": 0.52},
      {"nam": 2019.313, "ky": "30", "ls": 0.58},
      {"nam": 2019.362, "ky": "30", "ls": 0.55},
      {"nam": 2019.449, "ky": "30", "ls": 0.38},
      {"nam": 2019.469, "ky": "30", "ls": 0.32},
      {"nam": 2019.488, "ky": "30", "ls": 0.40},
      {"nam": 2019.508, "ky": "30", "ls": 0.35},
      {"nam": 2019.566, "ky": "30", "ls": 0.40},
      {"nam": 2019.605, "ky": "30", "ls": 0.29},
      {"nam": 2019.624, "ky": "30", "ls": 0.20},
      {"nam": 2019.663, "ky": "30", "ls": 0.12},
      {"nam": 2019.692, "ky": "30", "ls": 0.23},
      {"nam": 2019.722, "ky": "30", "ls": 0.35},
      {"nam": 2019.809, "ky": "30", "ls": 0.41},
      {"nam": 2019.848, "ky": "30", "ls": 0.46},
      {"nam": 2019.897, "ky": "30", "ls": 0.40},
      {"nam": 2019.945, "ky": "30", "ls": 0.44},
      {"nam": 2020.033, "ky": "30", "ls": 0.47},
      {"nam": 2020.057, "ky": "30", "ls": 0.40},
      {"nam": 2020.077, "ky": "30", "ls": 0.35},
      {"nam": 2020.096, "ky": "30", "ls": 0.40},
      {"nam": 2020.125, "ky": "30", "ls": 0.36},
      {"nam": 2020.164, "ky": "30", "ls": 0.30},
      {"nam": 2020.203, "ky": "30", "ls": 0.35},
      {"nam": 2020.219, "ky": "30", "ls": 0.47},
      {"nam": 2020.242, "ky": "30", "ls": 0.44},
      {"nam": 2020.281, "ky": "30", "ls": 0.49},
      {"nam": 2020.320, "ky": "30", "ls": 0.42},
      {"nam": 2020.349, "ky": "30", "ls": 0.46},
      {"nam": 2020.374, "ky": "30", "ls": 0.45},
      {"nam": 2020.417, "ky": "30", "ls": 0.57},
      {"nam": 2020.495, "ky": "30", "ls": 0.64},
      {"nam": 2020.514, "ky": "30", "ls": 0.58},
      {"nam": 2020.573, "ky": "30", "ls": 0.54},
      {"nam": 2020.611, "ky": "30", "ls": 0.61},
      {"nam": 2020.679, "ky": "30", "ls": 0.61},
      {"nam": 2020.699, "ky": "30", "ls": 0.58},
      {"nam": 2020.767, "ky": "30", "ls": 0.64},
      {"nam": 2020.903, "ky": "30", "ls": 0.65},
      {"nam": 2020.971, "ky": "30", "ls": 0.62},
      {"nam": 2021.039, "ky": "30", "ls": 0.65},
      {"nam": 2021.107, "ky": "30", "ls": 0.67},
      {"nam": 2021.136, "ky": "30", "ls": 0.73},
      {"nam": 2021.175, "ky": "30", "ls": 0.66},
      {"nam": 2021.214, "ky": "30", "ls": 0.64},
      {"nam": 2021.253, "ky": "30", "ls": 0.69},
      {"nam": 2021.292, "ky": "30", "ls": 0.63},
      {"nam": 2021.408, "ky": "30", "ls": 0.67},
      {"nam": 2021.486, "ky": "30", "ls": 0.68},
      {"nam": 2021.603, "ky": "30", "ls": 0.63},
      {"nam": 2021.719, "ky": "30", "ls": 0.65},
      {"nam": 2021.788, "ky": "30", "ls": 0.69},
      {"nam": 2021.826, "ky": "30", "ls": 0.68},
      {"nam": 2021.992, "ky": "30", "ls": 0.67},
      {"nam": 2022.021, "ky": "30", "ls": 0.73},
      {"nam": 2022.050, "ky": "30", "ls": 0.70},
      {"nam": 2022.089, "ky": "30", "ls": 0.86},
      {"nam": 2022.124, "ky": "30", "ls": 0.95},
      {"nam": 2022.157, "ky": "30", "ls": 0.83},
      {"nam": 2022.196, "ky": "30", "ls": 0.89},
      {"nam": 2022.225, "ky": "30", "ls": 0.95},
      {"nam": 2022.235, "ky": "30", "ls": 0.93},
      {"nam": 2022.244, "ky": "30", "ls": 0.98},
      {"nam": 2022.264, "ky": "30", "ls": 0.96},
      {"nam": 2022.342, "ky": "30", "ls": 1.03},
      {"nam": 2022.371, "ky": "30", "ls": 1.03},
      {"nam": 2022.390, "ky": "30", "ls": 0.99},
      {"nam": 2022.419, "ky": "30", "ls": 1.04},
      {"nam": 2022.449, "ky": "30", "ls": 1.21},
      {"nam": 2022.478, "ky": "30", "ls": 1.28},
      {"nam": 2022.517, "ky": "30", "ls": 1.27},
      {"nam": 2022.536, "ky": "30", "ls": 1.17},
      {"nam": 2022.565, "ky": "30", "ls": 1.25},
      {"nam": 2022.614, "ky": "30", "ls": 1.07},
      {"nam": 2022.688, "ky": "30", "ls": 1.33},
      {"nam": 2022.707, "ky": "30", "ls": 1.20},
      {"nam": 2022.734, "ky": "30", "ls": 1.43},
      {"nam": 2022.760, "ky": "30", "ls": 1.35},
      {"nam": 2022.798, "ky": "30", "ls": 1.67},
      {"nam": 2022.818, "ky": "30", "ls": 1.43},
      {"nam": 2022.837, "ky": "30", "ls": 1.56},
      {"nam": 2022.862, "ky": "30", "ls": 1.38},
      {"nam": 2022.881, "ky": "30", "ls": 1.44},
      {"nam": 2022.901, "ky": "30", "ls": 1.53},
      {"nam": 2022.920, "ky": "30", "ls": 1.46},
      {"nam": 2022.936, "ky": "30", "ls": 1.38},
      {"nam": 2022.955, "ky": "30", "ls": 1.56},
      {"nam": 2022.969, "ky": "30", "ls": 1.51},
      {"nam": 2022.998, "ky": "30", "ls": 1.66},
      {"nam": 2023.018, "ky": "30", "ls": 1.61},
      {"nam": 2023.041, "ky": "30", "ls": 1.52},
      {"nam": 2023.060, "ky": "30", "ls": 1.61},
      {"nam": 2023.080, "ky": "30", "ls": 1.52},
      {"nam": 2023.091, "ky": "30", "ls": 1.58},
      {"nam": 2023.105, "ky": "30", "ls": 1.48},
      {"nam": 2023.119, "ky": "30", "ls": 1.48},
      {"nam": 2023.134, "ky": "30", "ls": 1.37},
      {"nam": 2023.154, "ky": "30", "ls": 1.49},
      {"nam": 2023.169, "ky": "30", "ls": 1.38},
      {"nam": 2023.183, "ky": "30", "ls": 1.19},
      {"nam": 2023.208, "ky": "30", "ls": 1.34},
      {"nam": 2023.227, "ky": "30", "ls": 1.22},
      {"nam": 2023.247, "ky": "30", "ls": 1.36},
      {"nam": 2023.270, "ky": "30", "ls": 1.30},
      {"nam": 2023.299, "ky": "30", "ls": 1.34},
      {"nam": 2023.313, "ky": "30", "ls": 1.23},
      {"nam": 2023.329, "ky": "30", "ls": 1.28},
      {"nam": 2023.364, "ky": "30", "ls": 1.20},
      {"nam": 2023.387, "ky": "30", "ls": 1.27},
      {"nam": 2023.406, "ky": "30", "ls": 1.28},
      {"nam": 2023.445, "ky": "30", "ls": 1.23},
      {"nam": 2023.455, "ky": "30", "ls": 1.19},
      {"nam": 2023.474, "ky": "30", "ls": 1.19},
      {"nam": 2023.513, "ky": "30", "ls": 1.24},
      {"nam": 2023.533, "ky": "30", "ls": 1.41},
      {"nam": 2023.552, "ky": "30", "ls": 1.36},
      {"nam": 2023.581, "ky": "30", "ls": 1.60},
      {"nam": 2023.601, "ky": "30", "ls": 1.53},
      {"nam": 2023.630, "ky": "30", "ls": 1.67},
      {"nam": 2023.659, "ky": "30", "ls": 1.65},
      {"nam": 2023.678, "ky": "30", "ls": 1.65},
      {"nam": 2023.694, "ky": "30", "ls": 1.72},
      {"nam": 2023.717, "ky": "30", "ls": 1.70},
      {"nam": 2023.737, "ky": "30", "ls": 1.72},
      {"nam": 2023.766, "ky": "30", "ls": 1.85},
      {"nam": 2023.785, "ky": "30", "ls": 1.75},
      {"nam": 2023.815, "ky": "30", "ls": 1.89},
      {"nam": 2023.834, "ky": "30", "ls": 1.82},
      {"nam": 2023.853, "ky": "30", "ls": 1.72},
      {"nam": 2023.873, "ky": "30", "ls": 1.70},
      {"nam": 2023.896, "ky": "30", "ls": 1.60},
      {"nam": 2023.921, "ky": "30", "ls": 1.75},
      {"nam": 2023.941, "ky": "30", "ls": 1.58},
      {"nam": 2023.970, "ky": "30", "ls": 1.49},
      {"nam": 2023.990, "ky": "30", "ls": 1.60},
      {"nam": 2024.009, "ky": "30", "ls": 1.57},
      {"nam": 2024.032, "ky": "30", "ls": 1.66},
      {"nam": 2024.058, "ky": "30", "ls": 1.85},
      {"nam": 2024.077, "ky": "30", "ls": 1.72},
      {"nam": 2024.106, "ky": "30", "ls": 1.80},
      {"nam": 2024.145, "ky": "30", "ls": 1.67},
      {"nam": 2024.164, "ky": "30", "ls": 1.77},
      {"nam": 2024.194, "ky": "30", "ls": 1.85},
      {"nam": 2024.223, "ky": "30", "ls": 1.79},
      {"nam": 2024.242, "ky": "30", "ls": 1.82},
      {"nam": 2024.262, "ky": "30", "ls": 1.85},
      {"nam": 2024.271, "ky": "30", "ls": 1.93},
      {"nam": 2024.291, "ky": "30", "ls": 1.91},
      {"nam": 2024.339, "ky": "30", "ls": 1.98},
      {"nam": 2024.369, "ky": "30", "ls": 2.06},
      {"nam": 2024.378, "ky": "30", "ls": 2.15},
      {"nam": 2024.407, "ky": "30", "ls": 2.25},
      {"nam": 2024.427, "ky": "30", "ls": 2.09},
      {"nam": 2024.446, "ky": "30", "ls": 2.14},
      {"nam": 2024.476, "ky": "30", "ls": 2.22},
      {"nam": 2024.495, "ky": "30", "ls": 2.27},
      {"nam": 2024.534, "ky": "30", "ls": 2.20},
      {"nam": 2024.569, "ky": "30", "ls": 2.14},
      {"nam": 2024.582, "ky": "30", "ls": 1.93},
      {"nam": 2024.602, "ky": "30", "ls": 2.19},
      {"nam": 2024.617, "ky": "30", "ls": 2.01},
      {"nam": 2024.631, "ky": "30", "ls": 2.12},
      {"nam": 2024.650, "ky": "30", "ls": 2.05},
      {"nam": 2024.670, "ky": "30", "ls": 2.13},
      {"nam": 2024.699, "ky": "30", "ls": 2.01},
      {"nam": 2024.709, "ky": "30", "ls": 1.96},
      {"nam": 2024.728, "ky": "30", "ls": 2.06},
      {"nam": 2024.757, "ky": "30", "ls": 2.10},
      {"nam": 2024.767, "ky": "30", "ls": 2.19},
      {"nam": 2024.786, "ky": "30", "ls": 2.13},
      {"nam": 2024.806, "ky": "30", "ls": 2.19},
      {"nam": 2024.855, "ky": "30", "ls": 2.25},
      {"nam": 2024.874, "ky": "30", "ls": 2.28},
      {"nam": 2024.923, "ky": "30", "ls": 2.28},
      {"nam": 2024.942, "ky": "30", "ls": 2.24},
      {"nam": 2024.965, "ky": "30", "ls": 2.28},
      {"nam": 2024.981, "ky": "30", "ls": 2.24},
      {"nam": 2025.020, "ky": "30", "ls": 2.34},
      {"nam": 2025.039, "ky": "30", "ls": 2.25},
      {"nam": 2025.078, "ky": "30", "ls": 2.25},
      {"nam": 2025.088, "ky": "30", "ls": 2.29},
      {"nam": 2025.127, "ky": "30", "ls": 2.32},
      {"nam": 2025.146, "ky": "30", "ls": 2.37},
      {"nam": 2025.166, "ky": "30", "ls": 2.60},
      {"nam": 2025.214, "ky": "30", "ls": 2.60},
      {"nam": 2025.234, "ky": "30", "ls": 2.46},
      {"nam": 2025.243, "ky": "30", "ls": 2.31},
      {"nam": 2025.263, "ky": "30", "ls": 2.82},
      {"nam": 2025.282, "ky": "30", "ls": 2.69},
      {"nam": 2025.292, "ky": "30", "ls": 2.76},
      {"nam": 2025.307, "ky": "30", "ls": 2.67},
      {"nam": 2025.321, "ky": "30", "ls": 2.69},
      {"nam": 2025.335, "ky": "30", "ls": 2.99},
      {"nam": 2025.354, "ky": "30", "ls": 3.03},
      {"nam": 2025.370, "ky": "30", "ls": 2.99},
      {"nam": 2025.385, "ky": "30", "ls": 2.85},
      {"nam": 2025.399, "ky": "30", "ls": 2.96},
      {"nam": 2025.413, "ky": "30", "ls": 2.86},
      {"nam": 2025.428, "ky": "30", "ls": 2.91},
      {"nam": 2025.448, "ky": "30", "ls": 2.89},
      {"nam": 2025.463, "ky": "30", "ls": 2.94},
      {"nam": 2025.477, "ky": "30", "ls": 2.89},
      {"nam": 2025.502, "ky": "30", "ls": 2.84},
      {"nam": 2025.516, "ky": "30", "ls": 3.14},
      {"nam": 2025.535, "ky": "30", "ls": 3.08},
      {"nam": 2025.549, "ky": "30", "ls": 3.14},
      {"nam": 2025.564, "ky": "30", "ls": 2.98},
      {"nam": 2025.584, "ky": "30", "ls": 3.07},
      {"nam": 2025.603, "ky": "30", "ls": 3.03},
      {"nam": 2025.622, "ky": "30", "ls": 3.19},
      {"nam": 2025.642, "ky": "30", "ls": 3.20},
      {"nam": 2025.661, "ky": "30", "ls": 3.30},
      {"nam": 2025.681, "ky": "30", "ls": 3.24},
      {"nam": 2025.700, "ky": "30", "ls": 3.20},
      {"nam": 2025.720, "ky": "30", "ls": 3.12},
      {"nam": 2025.739, "ky": "30", "ls": 3.17},
      {"nam": 2025.753, "ky": "30", "ls": 3.19},

      {"nam": 2017.000, "ky": "40", "ls": 0.92},
      {"nam": 2017.039, "ky": "40", "ls": 0.86},
      {"nam": 2017.087, "ky": "40", "ls": 1.03},
      {"nam": 2017.107, "ky": "40", "ls": 0.99},
      {"nam": 2017.132, "ky": "40", "ls": 1.09},
      {"nam": 2017.156, "ky": "40", "ls": 0.94},
      {"nam": 2017.171, "ky": "40", "ls": 1.07},
      {"nam": 2017.194, "ky": "40", "ls": 1.09},
      {"nam": 2017.210, "ky": "40", "ls": 0.99},
      {"nam": 2017.233, "ky": "40", "ls": 1.04},
      {"nam": 2017.262, "ky": "40", "ls": 1.10},
      {"nam": 2017.295, "ky": "40", "ls": 0.92},
      {"nam": 2017.321, "ky": "40", "ls": 0.98},
      {"nam": 2017.360, "ky": "40", "ls": 1.08},
      {"nam": 2017.408, "ky": "40", "ls": 0.94},
      {"nam": 2017.447, "ky": "40", "ls": 1.02},
      {"nam": 2017.482, "ky": "40", "ls": 0.95},
      {"nam": 2017.529, "ky": "40", "ls": 1.10},
      {"nam": 2017.560, "ky": "40", "ls": 1.04},
      {"nam": 2017.593, "ky": "40", "ls": 1.11},
      {"nam": 2017.626, "ky": "40", "ls": 1.06},
      {"nam": 2017.710, "ky": "40", "ls": 1.01},
      {"nam": 2017.719, "ky": "40", "ls": 1.05},
      {"nam": 2017.735, "ky": "40", "ls": 1.01},
      {"nam": 2017.768, "ky": "40", "ls": 1.09},
      {"nam": 2017.807, "ky": "40", "ls": 1.09},
      {"nam": 2017.836, "ky": "40", "ls": 1.05},
      {"nam": 2017.871, "ky": "40", "ls": 0.93},
      {"nam": 2017.923, "ky": "40", "ls": 1.02},
      {"nam": 2017.982, "ky": "40", "ls": 0.92},
      {"nam": 2018.030, "ky": "40", "ls": 1.01},
      {"nam": 2018.137, "ky": "40", "ls": 0.92},
      {"nam": 2018.166, "ky": "40", "ls": 0.88},
      {"nam": 2018.215, "ky": "40", "ls": 0.92},
      {"nam": 2018.264, "ky": "40", "ls": 0.82},
      {"nam": 2018.279, "ky": "40", "ls": 0.90},
      {"nam": 2018.299, "ky": "40", "ls": 0.81},
      {"nam": 2018.326, "ky": "40", "ls": 0.88},
      {"nam": 2018.341, "ky": "40", "ls": 0.82},
      {"nam": 2018.384, "ky": "40", "ls": 0.91},
      {"nam": 2018.409, "ky": "40", "ls": 0.83},
      {"nam": 2018.439, "ky": "40", "ls": 0.89},
      {"nam": 2018.507, "ky": "40", "ls": 0.86},
      {"nam": 2018.526, "ky": "40", "ls": 0.81},
      {"nam": 2018.551, "ky": "40", "ls": 0.77},
      {"nam": 2018.565, "ky": "40", "ls": 0.95},
      {"nam": 2018.584, "ky": "40", "ls": 0.97},
      {"nam": 2018.590, "ky": "40", "ls": 0.88},
      {"nam": 2018.606, "ky": "40", "ls": 1.00},
      {"nam": 2018.643, "ky": "40", "ls": 1.01},
      {"nam": 2018.662, "ky": "40", "ls": 0.96},
      {"nam": 2018.682, "ky": "40", "ls": 1.01},
      {"nam": 2018.707, "ky": "40", "ls": 0.94},
      {"nam": 2018.750, "ky": "40", "ls": 1.06},
      {"nam": 2018.779, "ky": "40", "ls": 1.11},
      {"nam": 2018.818, "ky": "40", "ls": 1.07},
      {"nam": 2018.827, "ky": "40", "ls": 1.03},
      {"nam": 2018.876, "ky": "40", "ls": 1.07},
      {"nam": 2018.925, "ky": "40", "ls": 0.96},
      {"nam": 2018.969, "ky": "40", "ls": 0.96},
      {"nam": 2019.002, "ky": "40", "ls": 0.89},
      {"nam": 2019.012, "ky": "40", "ls": 0.82},
      {"nam": 2019.041, "ky": "40", "ls": 0.82},
      {"nam": 2019.129, "ky": "40", "ls": 0.68},
      {"nam": 2019.168, "ky": "40", "ls": 0.71},
      {"nam": 2019.265, "ky": "40", "ls": 0.57},
      {"nam": 2019.313, "ky": "40", "ls": 0.62},
      {"nam": 2019.362, "ky": "40", "ls": 0.57},
      {"nam": 2019.449, "ky": "40", "ls": 0.44},
      {"nam": 2019.469, "ky": "40", "ls": 0.40},
      {"nam": 2019.488, "ky": "40", "ls": 0.44},
      {"nam": 2019.527, "ky": "40", "ls": 0.40},
      {"nam": 2019.586, "ky": "40", "ls": 0.38},
      {"nam": 2019.621, "ky": "40", "ls": 0.27},
      {"nam": 2019.663, "ky": "40", "ls": 0.20},
      {"nam": 2019.712, "ky": "40", "ls": 0.38},
      {"nam": 2019.757, "ky": "40", "ls": 0.46},
      {"nam": 2019.799, "ky": "40", "ls": 0.48},
      {"nam": 2019.858, "ky": "40", "ls": 0.51},
      {"nam": 2019.916, "ky": "40", "ls": 0.46},
      {"nam": 2019.994, "ky": "40", "ls": 0.49},
      {"nam": 2020.033, "ky": "40", "ls": 0.52},
      {"nam": 2020.057, "ky": "40", "ls": 0.44},
      {"nam": 2020.083, "ky": "40", "ls": 0.46},
      {"nam": 2020.116, "ky": "40", "ls": 0.41},
      {"nam": 2020.155, "ky": "40", "ls": 0.36},
      {"nam": 2020.174, "ky": "40", "ls": 0.33},
      {"nam": 2020.193, "ky": "40", "ls": 0.36},
      {"nam": 2020.223, "ky": "40", "ls": 0.47},
      {"nam": 2020.242, "ky": "40", "ls": 0.44},
      {"nam": 2020.281, "ky": "40", "ls": 0.52},
      {"nam": 2020.310, "ky": "40", "ls": 0.41},
      {"nam": 2020.330, "ky": "40", "ls": 0.50},
      {"nam": 2020.359, "ky": "40", "ls": 0.48},
      {"nam": 2020.407, "ky": "40", "ls": 0.62},
      {"nam": 2020.433, "ky": "40", "ls": 0.57},
      {"nam": 2020.466, "ky": "40", "ls": 0.62},
      {"nam": 2020.485, "ky": "40", "ls": 0.70},
      {"nam": 2020.504, "ky": "40", "ls": 0.65},
      {"nam": 2020.524, "ky": "40", "ls": 0.65},
      {"nam": 2020.573, "ky": "40", "ls": 0.58},
      {"nam": 2020.611, "ky": "40", "ls": 0.66},
      {"nam": 2020.670, "ky": "40", "ls": 0.66},
      {"nam": 2020.689, "ky": "40", "ls": 0.62},
      {"nam": 2020.757, "ky": "40", "ls": 0.68},
      {"nam": 2020.825, "ky": "40", "ls": 0.67},
      {"nam": 2020.854, "ky": "40", "ls": 0.70},
      {"nam": 2020.874, "ky": "40", "ls": 0.67},
      {"nam": 2020.903, "ky": "40", "ls": 0.71},
      {"nam": 2020.942, "ky": "40", "ls": 0.66},
      {"nam": 2020.990, "ky": "40", "ls": 0.70},
      {"nam": 2021.010, "ky": "40", "ls": 0.68},
      {"nam": 2021.029, "ky": "40", "ls": 0.72},
      {"nam": 2021.097, "ky": "40", "ls": 0.71},
      {"nam": 2021.136, "ky": "40", "ls": 0.80},
      {"nam": 2021.175, "ky": "40", "ls": 0.74},
      {"nam": 2021.214, "ky": "40", "ls": 0.69},
      {"nam": 2021.253, "ky": "40", "ls": 0.76},
      {"nam": 2021.292, "ky": "40", "ls": 0.68},
      {"nam": 2021.321, "ky": "40", "ls": 0.71},
      {"nam": 2021.379, "ky": "40", "ls": 0.74},
      {"nam": 2021.447, "ky": "40", "ls": 0.72},
      {"nam": 2021.476, "ky": "40", "ls": 0.77},
      {"nam": 2021.506, "ky": "40", "ls": 0.73},
      {"nam": 2021.525, "ky": "40", "ls": 0.76},
      {"nam": 2021.541, "ky": "40", "ls": 0.70},
      {"nam": 2021.564, "ky": "40", "ls": 0.75},
      {"nam": 2021.603, "ky": "40", "ls": 0.72},
      {"nam": 2021.671, "ky": "40", "ls": 0.73},
      {"nam": 2021.681, "ky": "40", "ls": 0.76},
      {"nam": 2021.710, "ky": "40", "ls": 0.73},
      {"nam": 2021.729, "ky": "40", "ls": 0.79},
      {"nam": 2021.749, "ky": "40", "ls": 0.73},
      {"nam": 2021.768, "ky": "40", "ls": 0.80},
      {"nam": 2021.788, "ky": "40", "ls": 0.76},
      {"nam": 2021.817, "ky": "40", "ls": 0.77},
      {"nam": 2021.836, "ky": "40", "ls": 0.71},
      {"nam": 2021.875, "ky": "40", "ls": 0.76},
      {"nam": 2021.904, "ky": "40", "ls": 0.71},
      {"nam": 2021.972, "ky": "40", "ls": 0.71},
      {"nam": 2022.011, "ky": "40", "ls": 0.78},
      {"nam": 2022.040, "ky": "40", "ls": 0.75},
      {"nam": 2022.089, "ky": "40", "ls": 0.92},
      {"nam": 2022.124, "ky": "40", "ls": 1.03},
      {"nam": 2022.157, "ky": "40", "ls": 0.92},
      {"nam": 2022.196, "ky": "40", "ls": 0.95},
      {"nam": 2022.215, "ky": "40", "ls": 1.06},
      {"nam": 2022.231, "ky": "40", "ls": 1.17},
      {"nam": 2022.254, "ky": "40", "ls": 1.08},
      {"nam": 2022.274, "ky": "40", "ls": 1.12},
      {"nam": 2022.293, "ky": "40", "ls": 1.14},
      {"nam": 2022.312, "ky": "40", "ls": 1.10},
      {"nam": 2022.342, "ky": "40", "ls": 1.15},
      {"nam": 2022.371, "ky": "40", "ls": 1.10},
      {"nam": 2022.390, "ky": "40", "ls": 1.12},
      {"nam": 2022.429, "ky": "40", "ls": 1.26},
      {"nam": 2022.449, "ky": "40", "ls": 1.32},
      {"nam": 2022.478, "ky": "40", "ls": 1.44},
      {"nam": 2022.493, "ky": "40", "ls": 1.34},
      {"nam": 2022.517, "ky": "40", "ls": 1.50},
      {"nam": 2022.536, "ky": "40", "ls": 1.38},
      {"nam": 2022.565, "ky": "40", "ls": 1.39},
      {"nam": 2022.614, "ky": "40", "ls": 1.21},
      {"nam": 2022.662, "ky": "40", "ls": 1.36},
      {"nam": 2022.688, "ky": "40", "ls": 1.49},
      {"nam": 2022.707, "ky": "40", "ls": 1.28},
      {"nam": 2022.727, "ky": "40", "ls": 1.72},
      {"nam": 2022.750, "ky": "40", "ls": 1.49},
      {"nam": 2022.760, "ky": "40", "ls": 1.69},
      {"nam": 2022.779, "ky": "40", "ls": 1.76},
      {"nam": 2022.798, "ky": "40", "ls": 1.92},
      {"nam": 2022.818, "ky": "40", "ls": 1.65},
      {"nam": 2022.841, "ky": "40", "ls": 1.87},
      {"nam": 2022.862, "ky": "40", "ls": 1.65},
      {"nam": 2022.881, "ky": "40", "ls": 1.72},
      {"nam": 2022.901, "ky": "40", "ls": 1.80},
      {"nam": 2022.920, "ky": "40", "ls": 1.70},
      {"nam": 2022.940, "ky": "40", "ls": 1.58},
      {"nam": 2022.955, "ky": "40", "ls": 1.77},
      {"nam": 2022.963, "ky": "40", "ls": 1.82},
      {"nam": 2022.975, "ky": "40", "ls": 1.71},
      {"nam": 2022.988, "ky": "40", "ls": 1.85},
      {"nam": 2023.008, "ky": "40", "ls": 1.99},
      {"nam": 2023.021, "ky": "40", "ls": 1.85},
      {"nam": 2023.037, "ky": "40", "ls": 1.75},
      {"nam": 2023.047, "ky": "40", "ls": 1.89},
      {"nam": 2023.056, "ky": "40", "ls": 1.77},
      {"nam": 2023.066, "ky": "40", "ls": 1.90},
      {"nam": 2023.080, "ky": "40", "ls": 1.80},
      {"nam": 2023.099, "ky": "40", "ls": 1.85},
      {"nam": 2023.111, "ky": "40", "ls": 1.72},
      {"nam": 2023.130, "ky": "40", "ls": 1.70},
      {"nam": 2023.144, "ky": "40", "ls": 1.62},
      {"nam": 2023.154, "ky": "40", "ls": 1.52},
      {"nam": 2023.169, "ky": "40", "ls": 1.70},
      {"nam": 2023.183, "ky": "40", "ls": 1.41},
      {"nam": 2023.212, "ky": "40", "ls": 1.65},
      {"nam": 2023.227, "ky": "40", "ls": 1.49},
      {"nam": 2023.241, "ky": "40", "ls": 1.60},
      {"nam": 2023.270, "ky": "40", "ls": 1.51},
      {"nam": 2023.294, "ky": "40", "ls": 1.56},
      {"nam": 2023.309, "ky": "40", "ls": 1.41},
      {"nam": 2023.325, "ky": "40", "ls": 1.49},
      {"nam": 2023.338, "ky": "40", "ls": 1.42},
      {"nam": 2023.358, "ky": "40", "ls": 1.48},
      {"nam": 2023.371, "ky": "40", "ls": 1.42},
      {"nam": 2023.387, "ky": "40", "ls": 1.48},
      {"nam": 2023.410, "ky": "40", "ls": 1.46},
      {"nam": 2023.430, "ky": "40", "ls": 1.41},
      {"nam": 2023.445, "ky": "40", "ls": 1.37},
      {"nam": 2023.469, "ky": "40", "ls": 1.36},
      {"nam": 2023.494, "ky": "40", "ls": 1.42},
      {"nam": 2023.523, "ky": "40", "ls": 1.49},
      {"nam": 2023.533, "ky": "40", "ls": 1.58},
      {"nam": 2023.552, "ky": "40", "ls": 1.46},
      {"nam": 2023.572, "ky": "40", "ls": 1.65},
      {"nam": 2023.591, "ky": "40", "ls": 1.84},
      {"nam": 2023.605, "ky": "40", "ls": 1.67},
      {"nam": 2023.624, "ky": "40", "ls": 1.81},
      {"nam": 2023.640, "ky": "40", "ls": 1.85},
      {"nam": 2023.669, "ky": "40", "ls": 1.82},
      {"nam": 2023.698, "ky": "40", "ls": 1.87},
      {"nam": 2023.708, "ky": "40", "ls": 1.82},
      {"nam": 2023.737, "ky": "40", "ls": 1.85},
      {"nam": 2023.752, "ky": "40", "ls": 1.90},
      {"nam": 2023.766, "ky": "40", "ls": 2.01},
      {"nam": 2023.791, "ky": "40", "ls": 1.94},
      {"nam": 2023.805, "ky": "40", "ls": 2.18},
      {"nam": 2023.818, "ky": "40", "ls": 2.10},
      {"nam": 2023.834, "ky": "40", "ls": 2.15},
      {"nam": 2023.844, "ky": "40", "ls": 2.08},
      {"nam": 2023.857, "ky": "40", "ls": 1.93},
      {"nam": 2023.873, "ky": "40", "ls": 1.99},
      {"nam": 2023.886, "ky": "40", "ls": 1.72},
      {"nam": 2023.906, "ky": "40", "ls": 1.96},
      {"nam": 2023.921, "ky": "40", "ls": 1.84},
      {"nam": 2023.941, "ky": "40", "ls": 2.00},
      {"nam": 2023.970, "ky": "40", "ls": 1.68},
      {"nam": 2023.999, "ky": "40", "ls": 1.91},
      {"nam": 2024.019, "ky": "40", "ls": 1.85},
      {"nam": 2024.052, "ky": "40", "ls": 2.10},
      {"nam": 2024.077, "ky": "40", "ls": 2.05},
      {"nam": 2024.087, "ky": "40", "ls": 1.98},
      {"nam": 2024.106, "ky": "40", "ls": 2.05},
      {"nam": 2024.145, "ky": "40", "ls": 1.87},
      {"nam": 2024.155, "ky": "40", "ls": 1.96},
      {"nam": 2024.194, "ky": "40", "ls": 2.09},
      {"nam": 2024.213, "ky": "40", "ls": 2.05},
      {"nam": 2024.229, "ky": "40", "ls": 2.01},
      {"nam": 2024.252, "ky": "40", "ls": 2.13},
      {"nam": 2024.271, "ky": "40", "ls": 2.17},
      {"nam": 2024.277, "ky": "40", "ls": 2.25},
      {"nam": 2024.291, "ky": "40", "ls": 2.22},
      {"nam": 2024.339, "ky": "40", "ls": 2.33},
      {"nam": 2024.359, "ky": "40", "ls": 2.43},
      {"nam": 2024.378, "ky": "40", "ls": 2.58},
      {"nam": 2024.388, "ky": "40", "ls": 2.33},
      {"nam": 2024.407, "ky": "40", "ls": 2.42},
      {"nam": 2024.427, "ky": "40", "ls": 2.31},
      {"nam": 2024.446, "ky": "40", "ls": 2.22},
      {"nam": 2024.476, "ky": "40", "ls": 2.43},
      {"nam": 2024.495, "ky": "40", "ls": 2.38},
      {"nam": 2024.520, "ky": "40", "ls": 2.50},
      {"nam": 2024.538, "ky": "40", "ls": 2.38},
      {"nam": 2024.557, "ky": "40", "ls": 2.47},
      {"nam": 2024.573, "ky": "40", "ls": 2.36},
      {"nam": 2024.582, "ky": "40", "ls": 2.22},
      {"nam": 2024.596, "ky": "40", "ls": 2.47},
      {"nam": 2024.612, "ky": "40", "ls": 2.25},
      {"nam": 2024.631, "ky": "40", "ls": 2.36},
      {"nam": 2024.650, "ky": "40", "ls": 2.29},
      {"nam": 2024.670, "ky": "40", "ls": 2.41},
      {"nam": 2024.689, "ky": "40", "ls": 2.25},
      {"nam": 2024.709, "ky": "40", "ls": 2.36},
      {"nam": 2024.728, "ky": "40", "ls": 2.41},
      {"nam": 2024.757, "ky": "40", "ls": 2.48},
      {"nam": 2024.777, "ky": "40", "ls": 2.43},
      {"nam": 2024.796, "ky": "40", "ls": 2.55},
      {"nam": 2024.816, "ky": "40", "ls": 2.48},
      {"nam": 2024.835, "ky": "40", "ls": 2.56},
      {"nam": 2024.864, "ky": "40", "ls": 2.60},
      {"nam": 2024.874, "ky": "40", "ls": 2.69},
      {"nam": 2024.894, "ky": "40", "ls": 2.58},
      {"nam": 2024.923, "ky": "40", "ls": 2.69},
      {"nam": 2024.942, "ky": "40", "ls": 2.57},
      {"nam": 2024.962, "ky": "40", "ls": 2.67},
      {"nam": 2024.981, "ky": "40", "ls": 2.61},
      {"nam": 2025.000, "ky": "40", "ls": 2.65},
      {"nam": 2025.024, "ky": "40", "ls": 2.79},
      {"nam": 2025.049, "ky": "40", "ls": 2.65},
      {"nam": 2025.068, "ky": "40", "ls": 2.61},
      {"nam": 2025.082, "ky": "40", "ls": 2.69},
      {"nam": 2025.098, "ky": "40", "ls": 2.60},
      {"nam": 2025.127, "ky": "40", "ls": 2.66},
      {"nam": 2025.140, "ky": "40", "ls": 2.60},
      {"nam": 2025.156, "ky": "40", "ls": 2.81},
      {"nam": 2025.175, "ky": "40", "ls": 2.90},
      {"nam": 2025.195, "ky": "40", "ls": 2.96},
      {"nam": 2025.214, "ky": "40", "ls": 2.93},
      {"nam": 2025.238, "ky": "40", "ls": 2.60},
      {"nam": 2025.253, "ky": "40", "ls": 3.07},
      {"nam": 2025.273, "ky": "40", "ls": 3.00},
      {"nam": 2025.288, "ky": "40", "ls": 3.22},
      {"nam": 2025.302, "ky": "40", "ls": 3.07},
      {"nam": 2025.315, "ky": "40", "ls": 3.12},
      {"nam": 2025.335, "ky": "40", "ls": 3.48},
      {"nam": 2025.350, "ky": "40", "ls": 3.38},
      {"nam": 2025.370, "ky": "40", "ls": 3.70},
      {"nam": 2025.389, "ky": "40", "ls": 3.14},
      {"nam": 2025.409, "ky": "40", "ls": 3.04},
      {"nam": 2025.428, "ky": "40", "ls": 3.12},
      {"nam": 2025.448, "ky": "40", "ls": 3.05},
      {"nam": 2025.467, "ky": "40", "ls": 3.14},
      {"nam": 2025.496, "ky": "40", "ls": 3.08},
      {"nam": 2025.506, "ky": "40", "ls": 3.37},
      {"nam": 2025.521, "ky": "40", "ls": 3.47},
      {"nam": 2025.541, "ky": "40", "ls": 3.32},
      {"nam": 2025.554, "ky": "40", "ls": 3.46},
      {"nam": 2025.564, "ky": "40", "ls": 3.31},
      {"nam": 2025.580, "ky": "40", "ls": 3.39},
      {"nam": 2025.603, "ky": "40", "ls": 3.28},
      {"nam": 2025.622, "ky": "40", "ls": 3.47},
      {"nam": 2025.642, "ky": "40", "ls": 3.41},
      {"nam": 2025.661, "ky": "40", "ls": 3.55},
      {"nam": 2025.677, "ky": "40", "ls": 3.47},
      {"nam": 2025.690, "ky": "40", "ls": 3.51},
      {"nam": 2025.704, "ky": "40", "ls": 3.39},
      {"nam": 2025.720, "ky": "40", "ls": 3.32},
      {"nam": 2025.739, "ky": "40", "ls": 3.37},
      {"nam": 2025.753, "ky": "40", "ls": 3.41}
    ],
    "nikkei": [
      {"nam": 2017.000, "diem": 19760},
      {"nam": 2017.039, "diem": 19010},
      {"nam": 2017.068, "diem": 19790},
      {"nam": 2017.093, "diem": 19010},
      {"nam": 2017.113, "diem": 19730},
      {"nam": 2017.126, "diem": 19250},
      {"nam": 2017.140, "diem": 19710},
      {"nam": 2017.159, "diem": 19170},
      {"nam": 2017.175, "diem": 19760},
      {"nam": 2017.189, "diem": 19300},
      {"nam": 2017.204, "diem": 19980},
      {"nam": 2017.224, "diem": 19110},
      {"nam": 2017.237, "diem": 19550},
      {"nam": 2017.262, "diem": 18840},
      {"nam": 2017.282, "diem": 19110},
      {"nam": 2017.297, "diem": 18570},
      {"nam": 2017.321, "diem": 19440},
      {"nam": 2017.350, "diem": 20140},
      {"nam": 2017.379, "diem": 19550},
      {"nam": 2017.408, "diem": 19710},
      {"nam": 2017.424, "diem": 20410},
      {"nam": 2017.457, "diem": 19760},
      {"nam": 2017.470, "diem": 20340},
      {"nam": 2017.486, "diem": 19920},
      {"nam": 2017.502, "diem": 20380},
      {"nam": 2017.515, "diem": 19870},
      {"nam": 2017.535, "diem": 20360},
      {"nam": 2017.554, "diem": 19840},
      {"nam": 2017.568, "diem": 20250},
      {"nam": 2017.583, "diem": 19920},
      {"nam": 2017.599, "diem": 20230},
      {"nam": 2017.622, "diem": 19870},
      {"nam": 2017.642, "diem": 19440},
      {"nam": 2017.651, "diem": 19410},
      {"nam": 2017.677, "diem": 19870},
      {"nam": 2017.700, "diem": 19250},
      {"nam": 2017.723, "diem": 20300},
      {"nam": 2017.748, "diem": 20300},
      {"nam": 2017.778, "diem": 20740},
      {"nam": 2017.807, "diem": 21170},
      {"nam": 2017.836, "diem": 21600},
      {"nam": 2017.861, "diem": 22520},
      {"nam": 2017.890, "diem": 21490},
      {"nam": 2017.923, "diem": 22430},
      {"nam": 2017.947, "diem": 21710},
      {"nam": 2017.956, "diem": 22540},
      {"nam": 2017.966, "diem": 21930},
      {"nam": 2017.982, "diem": 22540},
      {"nam": 2018.001, "diem": 22220},
      {"nam": 2018.015, "diem": 23040},
      {"nam": 2018.046, "diem": 23040},
      {"nam": 2018.065, "diem": 23390},
      {"nam": 2018.104, "diem": 22410},
      {"nam": 2018.112, "diem": 21490},
      {"nam": 2018.124, "diem": 20790},
      {"nam": 2018.137, "diem": 21760},
      {"nam": 2018.147, "diem": 21280},
      {"nam": 2018.163, "diem": 22070},
      {"nam": 2018.180, "diem": 20740},
      {"nam": 2018.205, "diem": 21760},
      {"nam": 2018.225, "diem": 21060},
      {"nam": 2018.231, "diem": 20410},
      {"nam": 2018.264, "diem": 21330},
      {"nam": 2018.293, "diem": 21600},
      {"nam": 2018.341, "diem": 22140},
      {"nam": 2018.351, "diem": 21710},
      {"nam": 2018.371, "diem": 22470},
      {"nam": 2018.384, "diem": 22030},
      {"nam": 2018.396, "diem": 22520},
      {"nam": 2018.419, "diem": 21660},
      {"nam": 2018.454, "diem": 22630},
      {"nam": 2018.472, "diem": 21660},
      {"nam": 2018.487, "diem": 22200},
      {"nam": 2018.507, "diem": 21820},
      {"nam": 2018.526, "diem": 21110},
      {"nam": 2018.549, "diem": 22410},
      {"nam": 2018.565, "diem": 21820},
      {"nam": 2018.584, "diem": 22200},
      {"nam": 2018.610, "diem": 22220},
      {"nam": 2018.629, "diem": 21330},
      {"nam": 2018.643, "diem": 21980},
      {"nam": 2018.668, "diem": 22470},
      {"nam": 2018.707, "diem": 21760},
      {"nam": 2018.730, "diem": 23120},
      {"nam": 2018.746, "diem": 23280},
      {"nam": 2018.759, "diem": 23520},
      {"nam": 2018.785, "diem": 22570},
      {"nam": 2018.798, "diem": 21710},
      {"nam": 2018.818, "diem": 22360},
      {"nam": 2018.837, "diem": 20790},
      {"nam": 2018.876, "diem": 22140},
      {"nam": 2018.905, "diem": 21060},
      {"nam": 2018.934, "diem": 22110},
      {"nam": 2018.960, "diem": 20900},
      {"nam": 2018.979, "diem": 21600},
      {"nam": 2018.998, "diem": 19220},
      {"nam": 2019.057, "diem": 20740},
      {"nam": 2019.090, "diem": 20790},
      {"nam": 2019.115, "diem": 20170},
      {"nam": 2019.138, "diem": 21220},
      {"nam": 2019.177, "diem": 21550},
      {"nam": 2019.197, "diem": 20790},
      {"nam": 2019.236, "diem": 21550},
      {"nam": 2019.239, "diem": 20630},
      {"nam": 2019.278, "diem": 21440},
      {"nam": 2019.329, "diem": 22030},
      {"nam": 2019.352, "diem": 20790},
      {"nam": 2019.391, "diem": 21140},
      {"nam": 2019.420, "diem": 20120},
      {"nam": 2019.440, "diem": 21110},
      {"nam": 2019.453, "diem": 20680},
      {"nam": 2019.469, "diem": 21440},
      {"nam": 2019.492, "diem": 20790},
      {"nam": 2019.508, "diem": 21580},
      {"nam": 2019.547, "diem": 20840},
      {"nam": 2019.566, "diem": 21600},
      {"nam": 2019.595, "diem": 20410},
      {"nam": 2019.620, "diem": 20470},
      {"nam": 2019.634, "diem": 20740},
      {"nam": 2019.648, "diem": 20090},
      {"nam": 2019.692, "diem": 21490},
      {"nam": 2019.722, "diem": 21850},
      {"nam": 2019.745, "diem": 21630},
      {"nam": 2019.760, "diem": 21010},
      {"nam": 2019.786, "diem": 21550},
      {"nam": 2019.799, "diem": 22090},
      {"nam": 2019.829, "diem": 22410},
      {"nam": 2019.858, "diem": 22930},
      {"nam": 2019.877, "diem": 22300},
      {"nam": 2019.893, "diem": 22790},
      {"nam": 2019.916, "diem": 22980},
      {"nam": 2019.926, "diem": 22410},
      {"nam": 2019.955, "diem": 23410},
      {"nam": 2019.978, "diem": 23040},
      {"nam": 2020.003, "diem": 22470},
      {"nam": 2020.023, "diem": 23360},
      {"nam": 2020.048, "diem": 23280},
      {"nam": 2020.071, "diem": 22200},
      {"nam": 2020.090, "diem": 23220},
      {"nam": 2020.122, "diem": 22850},
      {"nam": 2020.145, "diem": 20790},
      {"nam": 2020.160, "diem": 21220},
      {"nam": 2020.203, "diem": 17170},
      {"nam": 2020.219, "diem": 19760},
      {"nam": 2020.242, "diem": 18090},
      {"nam": 2020.261, "diem": 19710},
      {"nam": 2020.285, "diem": 20090},
      {"nam": 2020.300, "diem": 19280},
      {"nam": 2020.324, "diem": 20410},
      {"nam": 2020.339, "diem": 19710},
      {"nam": 2020.378, "diem": 20630},
      {"nam": 2020.417, "diem": 22790},
      {"nam": 2020.446, "diem": 21220},
      {"nam": 2020.456, "diem": 22200},
      {"nam": 2020.485, "diem": 21550},
      {"nam": 2020.499, "diem": 22410},
      {"nam": 2020.514, "diem": 21710},
      {"nam": 2020.534, "diem": 22470},
      {"nam": 2020.553, "diem": 22250},
      {"nam": 2020.573, "diem": 21220},
      {"nam": 2020.602, "diem": 22790},
      {"nam": 2020.621, "diem": 22200},
      {"nam": 2020.635, "diem": 22820},
      {"nam": 2020.654, "diem": 22250},
      {"nam": 2020.666, "diem": 22980},
      {"nam": 2020.685, "diem": 22360},
      {"nam": 2020.693, "diem": 23010},
      {"nam": 2020.714, "diem": 22300},
      {"nam": 2020.724, "diem": 22980},
      {"nam": 2020.738, "diem": 22330},
      {"nam": 2020.763, "diem": 23010},
      {"nam": 2020.786, "diem": 22950},
      {"nam": 2020.825, "diem": 22330},
      {"nam": 2020.845, "diem": 23660},
      {"nam": 2020.864, "diem": 25010},
      {"nam": 2020.884, "diem": 24310},
      {"nam": 2020.893, "diem": 25390},
      {"nam": 2020.922, "diem": 25120},
      {"nam": 2020.942, "diem": 25500},
      {"nam": 2020.961, "diem": 25100},
      {"nam": 2020.990, "diem": 26250},
      {"nam": 2021.000, "diem": 25550},
      {"nam": 2021.020, "diem": 27230},
      {"nam": 2021.029, "diem": 26580},
      {"nam": 2021.049, "diem": 27170},
      {"nam": 2021.062, "diem": 25980},
      {"nam": 2021.088, "diem": 27600},
      {"nam": 2021.107, "diem": 28490},
      {"nam": 2021.136, "diem": 27600},
      {"nam": 2021.162, "diem": 26850},
      {"nam": 2021.195, "diem": 28250},
      {"nam": 2021.214, "diem": 26690},
      {"nam": 2021.253, "diem": 27980},
      {"nam": 2021.292, "diem": 26630},
      {"nam": 2021.327, "diem": 27600},
      {"nam": 2021.346, "diem": 25930},
      {"nam": 2021.379, "diem": 26900},
      {"nam": 2021.393, "diem": 27440},
      {"nam": 2021.408, "diem": 27010},
      {"nam": 2021.443, "diem": 27690},
      {"nam": 2021.457, "diem": 26360},
      {"nam": 2021.476, "diem": 27390},
      {"nam": 2021.502, "diem": 26900},
      {"nam": 2021.515, "diem": 26250},
      {"nam": 2021.525, "diem": 27010},
      {"nam": 2021.541, "diem": 25770},
      {"nam": 2021.554, "diem": 26580},
      {"nam": 2021.564, "diem": 25710},
      {"nam": 2021.603, "diem": 26630},
      {"nam": 2021.622, "diem": 25500},
      {"nam": 2021.642, "diem": 26250},
      {"nam": 2021.657, "diem": 26420},
      {"nam": 2021.671, "diem": 28040},
      {"nam": 2021.696, "diem": 28710},
      {"nam": 2021.710, "diem": 27600},
      {"nam": 2021.723, "diem": 28310},
      {"nam": 2021.749, "diem": 25930},
      {"nam": 2021.778, "diem": 27060},
      {"nam": 2021.797, "diem": 26850},
      {"nam": 2021.826, "diem": 27880},
      {"nam": 2021.852, "diem": 27170},
      {"nam": 2021.865, "diem": 27880},
      {"nam": 2021.885, "diem": 27820},
      {"nam": 2021.904, "diem": 26140},
      {"nam": 2021.929, "diem": 27280},
      {"nam": 2021.939, "diem": 26630},
      {"nam": 2021.953, "diem": 27330},
      {"nam": 2021.962, "diem": 26200},
      {"nam": 2021.992, "diem": 27500},
      {"nam": 2022.015, "diem": 26580},
      {"nam": 2022.031, "diem": 26580},
      {"nam": 2022.060, "diem": 24790},
      {"nam": 2022.079, "diem": 26040},
      {"nam": 2022.099, "diem": 26310},
      {"nam": 2022.112, "diem": 25550},
      {"nam": 2022.132, "diem": 24680},
      {"nam": 2022.147, "diem": 25600},
      {"nam": 2022.167, "diem": 23710},
      {"nam": 2022.196, "diem": 24580},
      {"nam": 2022.211, "diem": 26630},
      {"nam": 2022.235, "diem": 26310},
      {"nam": 2022.264, "diem": 25010},
      {"nam": 2022.293, "diem": 26200},
      {"nam": 2022.307, "diem": 24950},
      {"nam": 2022.322, "diem": 25710},
      {"nam": 2022.342, "diem": 24520},
      {"nam": 2022.361, "diem": 25710},
      {"nam": 2022.380, "diem": 25280},
      {"nam": 2022.415, "diem": 26740},
      {"nam": 2022.443, "diem": 24470},
      {"nam": 2022.468, "diem": 25820},
      {"nam": 2022.487, "diem": 24630},
      {"nam": 2022.526, "diem": 25330},
      {"nam": 2022.546, "diem": 26470},
      {"nam": 2022.565, "diem": 26040},
      {"nam": 2022.575, "diem": 26520},
      {"nam": 2022.590, "diem": 26200},
      {"nam": 2022.614, "diem": 27440},
      {"nam": 2022.668, "diem": 25980},
      {"nam": 2022.682, "diem": 26960},
      {"nam": 2022.730, "diem": 24630},
      {"nam": 2022.750, "diem": 25930},
      {"nam": 2022.769, "diem": 24900},
      {"nam": 2022.789, "diem": 25820},
      {"nam": 2022.808, "diem": 25550},
      {"nam": 2022.847, "diem": 26790},
      {"nam": 2022.862, "diem": 26310},
      {"nam": 2022.886, "diem": 26790},
      {"nam": 2022.915, "diem": 26040},
      {"nam": 2022.940, "diem": 26580},
      {"nam": 2022.954, "diem": 25230},
      {"nam": 2022.979, "diem": 24680},
      {"nam": 2023.010, "diem": 25300},
      {"nam": 2023.040, "diem": 26000},
      {"nam": 2023.065, "diem": 25800},
      {"nam": 2023.100, "diem": 26400},
      {"nam": 2023.140, "diem": 26500},
      {"nam": 2023.173, "diem": 27120},
      {"nam": 2023.192, "diem": 26850},
      {"nam": 2023.280, "diem": 27010},
      {"nam": 2023.299, "diem": 27060},
      {"nam": 2023.325, "diem": 27440},
      {"nam": 2023.344, "diem": 27550},
      {"nam": 2023.367, "diem": 29010},
      {"nam": 2023.377, "diem": 28470},
      {"nam": 2023.416, "diem": 29170},
      {"nam": 2023.422, "diem": 30090},
      {"nam": 2023.441, "diem": 31070},
      {"nam": 2023.469, "diem": 29930},
      {"nam": 2023.484, "diem": 31070},
      {"nam": 2023.519, "diem": 29610},
      {"nam": 2023.533, "diem": 30420},
      {"nam": 2023.546, "diem": 29770},
      {"nam": 2023.572, "diem": 30800},
      {"nam": 2023.591, "diem": 29660},
      {"nam": 2023.607, "diem": 29710},
      {"nam": 2023.630, "diem": 29070},
      {"nam": 2023.678, "diem": 30690},
      {"nam": 2023.688, "diem": 29770},
      {"nam": 2023.704, "diem": 30900},
      {"nam": 2023.756, "diem": 28360},
      {"nam": 2023.780, "diem": 30040},
      {"nam": 2023.815, "diem": 28420},
      {"nam": 2023.834, "diem": 29550},
      {"nam": 2023.850, "diem": 30310},
      {"nam": 2023.873, "diem": 30960},
      {"nam": 2023.921, "diem": 30740},
      {"nam": 2023.935, "diem": 29770},
      {"nam": 2023.960, "diem": 30470},
      {"nam": 2023.966, "diem": 31070},
      {"nam": 2023.980, "diem": 30530},
      {"nam": 2024.009, "diem": 30800},
      {"nam": 2024.025, "diem": 32740},
      {"nam": 2024.038, "diem": 32200},
      {"nam": 2024.048, "diem": 33340},
      {"nam": 2024.067, "diem": 32470},
      {"nam": 2024.106, "diem": 33120},
      {"nam": 2024.116, "diem": 34470},
      {"nam": 2024.164, "diem": 36150},
      {"nam": 2024.188, "diem": 34740},
      {"nam": 2024.213, "diem": 36800},
      {"nam": 2024.233, "diem": 35930},
      {"nam": 2024.252, "diem": 35070},
      {"nam": 2024.262, "diem": 35880},
      {"nam": 2024.291, "diem": 35340},
      {"nam": 2024.297, "diem": 33550},
      {"nam": 2024.330, "diem": 35180},
      {"nam": 2024.349, "diem": 34310},
      {"nam": 2024.369, "diem": 35390},
      {"nam": 2024.402, "diem": 34470},
      {"nam": 2024.427, "diem": 35390},
      {"nam": 2024.446, "diem": 34470},
      {"nam": 2024.472, "diem": 35010},
      {"nam": 2024.524, "diem": 37830},
      {"nam": 2024.563, "diem": 34150},
      {"nam": 2024.573, "diem": 35340},
      {"nam": 2024.588, "diem": 29010},
      {"nam": 2024.621, "diem": 34470},
      {"nam": 2024.666, "diem": 35070},
      {"nam": 2024.699, "diem": 32310},
      {"nam": 2024.728, "diem": 35990},
      {"nam": 2024.752, "diem": 33990},
      {"nam": 2024.783, "diem": 36200},
      {"nam": 2024.806, "diem": 34310},
      {"nam": 2024.835, "diem": 35500},
      {"nam": 2024.845, "diem": 34530},
      {"nam": 2024.849, "diem": 35740},
      {"nam": 2024.874, "diem": 34530},
      {"nam": 2024.894, "diem": 34150},
      {"nam": 2024.903, "diem": 35070},
      {"nam": 2024.913, "diem": 34420},
      {"nam": 2024.923, "diem": 35450},
      {"nam": 2024.946, "diem": 35990},
      {"nam": 2024.971, "diem": 34850},
      {"nam": 2024.996, "diem": 36310},
      {"nam": 2025.029, "diem": 34580},
      {"nam": 2025.055, "diem": 35990},
      {"nam": 2025.074, "diem": 34690},
      {"nam": 2025.113, "diem": 35660},
      {"nam": 2025.133, "diem": 34850},
      {"nam": 2025.152, "diem": 33610},
      {"nam": 2025.166, "diem": 34260},
      {"nam": 2025.179, "diem": 33340},
      {"nam": 2025.191, "diem": 33770},
      {"nam": 2025.218, "diem": 34370},
      {"nam": 2025.249, "diem": 28850},
      {"nam": 2025.263, "diem": 31820},
      {"nam": 2025.273, "diem": 31170},
      {"nam": 2025.302, "diem": 32040},
      {"nam": 2025.321, "diem": 33340},
      {"nam": 2025.346, "diem": 34740},
      {"nam": 2025.374, "diem": 33500},
      {"nam": 2025.393, "diem": 34690},
      {"nam": 2025.405, "diem": 33770},
      {"nam": 2025.424, "diem": 34740},
      {"nam": 2025.438, "diem": 34200},
      {"nam": 2025.451, "diem": 35010},
      {"nam": 2025.463, "diem": 34580},
      {"nam": 2025.482, "diem": 36470},
      {"nam": 2025.502, "diem": 35450},
      {"nam": 2025.525, "diem": 35770},
      {"nam": 2025.549, "diem": 35720},
      {"nam": 2025.554, "diem": 37500},
      {"nam": 2025.580, "diem": 36260},
      {"nam": 2025.599, "diem": 37720},
      {"nam": 2025.613, "diem": 39120},
      {"nam": 2025.622, "diem": 38310},
      {"nam": 2025.661, "diem": 37560},
      {"nam": 2025.677, "diem": 38530},
      {"nam": 2025.696, "diem": 39990},
      {"nam": 2025.723, "diem": 40670},
      {"nam": 2025.735, "diem": 39500},
      {"nam": 2025.753, "diem": 40640}
    ]
  },
  "vconcat": [
    {
      "width": 4167,
      "height": 881,
      "data": {"name": "loisuat"},
      "encoding": {
        "x": {
          "field": "nam",
          "type": "quantitative",
          "scale": {"domain": [2017, 2026.77], "nice": false, "zero": false},
          "axis": {
            "orient": "bottom",
            "domain": true,
            "domainColor": "#000000",
            "domainWidth": 8,
            "ticks": false,
            "labels": false,
            "grid": false,
            "title": null
          }
        },
        "y": {
          "field": "ls",
          "type": "quantitative",
          "scale": {"domain": [-0.461, 4.4], "nice": false, "zero": false},
          "axis": {
            "orient": "right",
            "offset": -247,
            "values": [0.394, 2, 4],
            "labelExpr": "datum.value < 1 ? '0.0' : format(datum.value, '.1f')",
            "domain": false,
            "grid": false,
            "tickSize": 104,
            "tickWidth": 4,
            "tickColor": "#000000",
            "labelAlign": "right",
            "labelBaseline": "alphabetic",
            "labelPadding": -4,
            "labelOffset": -36,
            "labelLimit": 500,
            "labelFont": "Inter",
            "labelFontSize": 96,
            "labelColor": "#000000",
            "labelFlush": false,
            "labelOverlap": false,
            "title": "Phần trăm",
            "titleFont": "Inter",
            "titleFontSize": 96,
            "titleFontWeight": "normal",
            "titleColor": "#000000",
            "titleAngle": 90,
            "titleAlign": "center",
            "titleBaseline": "alphabetic",
            "titleX": 150,
            "titleY": 389
          }
        },
        "color": {
          "field": "ky",
          "type": "nominal",
          "scale": {
            "domain": ["40", "30", "20", "10"],
            "range": ["#000000", "#ff6b5f", "#0039cc", "#00b894"]
          },
          "legend": {
            "orient": "none",
            "legendX": 0,
            "legendY": -662,
            "title": null,
            "direction": "vertical",
            "padding": 0,
            "symbolType": "square",
            "symbolSize": 4356,
            "symbolStrokeWidth": 0,
            "symbolOpacity": 1,
            "labelFont": "Inter",
            "labelFontSize": 94.5,
            "labelColor": "#000000",
            "labelLimit": 4000,
            "labelOffset": 17,
            "rowPadding": 21,
            "labelExpr": "'Lợi suất trái phiếu chính phủ Nhật ' + datum.label + ' năm – Giá cập nhất tới ngày 3/10'",
            "encode": {"symbols": {"update": {"size": {"value": 4356}, "strokeWidth": {"value": 0}, "opacity": {"value": 1}}}}
          }
        }
      },
      "layer": [
        {"mark": {"type": "line", "strokeWidth": 6, "strokeJoin": "round", "strokeCap": "round"}},
        {"mark": {"type": "square", "filled": true, "size": 0}}
      ]
    },
    {
      "width": 4167,
      "height": 1063,
      "data": {"name": "nikkei"},
      "encoding": {
        "x": {
          "field": "nam",
          "type": "quantitative",
          "scale": {"domain": [2017, 2026.77], "nice": false, "zero": false},
          "axis": {
            "orient": "bottom",
            "domain": false,
            "ticks": false,
            "labels": false,
            "grid": false,
            "title": "Nguồn: Bloomberg",
            "titleFont": "Inter",
            "titleFontSize": 95,
            "titleFontWeight": "normal",
            "titleColor": "#000000",
            "titleAnchor": "start",
            "titleAlign": "left",
            "titleBaseline": "alphabetic",
            "titleX": 0,
            "titleY": 234
          }
        },
        "y": {
          "field": "diem",
          "type": "quantitative",
          "scale": {"domain": [16500, 50991], "nice": false, "zero": false},
          "axis": {
            "orient": "right",
            "offset": -247,
            "values": [20000, 30000, 40000, 50000],
            "format": "d",
            "domain": false,
            "grid": false,
            "tickSize": 104,
            "tickWidth": 4,
            "tickColor": "#000000",
            "labelAlign": "right",
            "labelBaseline": "alphabetic",
            "labelPadding": -4,
            "labelOffset": -37,
            "labelLimit": 500,
            "labelFont": "Inter",
            "labelFontSize": 96,
            "labelColor": "#000000",
            "labelFlush": false,
            "labelOverlap": false,
            "title": "Mức độ",
            "titleFont": "Inter",
            "titleFontSize": 96,
            "titleFontWeight": "normal",
            "titleColor": "#000000",
            "titleAngle": 90,
            "titleAlign": "center",
            "titleBaseline": "alphabetic",
            "titleX": 150,
            "titleY": 495
          }
        },
        "color": {
          "datum": "Chỉ số Nikkei 225",
          "type": "nominal",
          "scale": {"range": ["#777777"]},
          "legend": {
            "orient": "none",
            "legendX": 0,
            "legendY": -187,
            "title": null,
            "padding": 0,
            "symbolType": "square",
            "symbolSize": 4624,
            "symbolStrokeWidth": 0,
            "symbolOpacity": 1,
            "labelFont": "Inter",
            "labelFontSize": 95,
            "labelColor": "#000000",
            "labelLimit": 4000,
            "labelOffset": 13,
            "encode": {"symbols": {"update": {"size": {"value": 4624}, "strokeWidth": {"value": 0}, "opacity": {"value": 1}, "fill": {"value": "#646464"}}}}
          }
        }
      },
      "layer": [
        {"mark": {"type": "line", "strokeWidth": 6, "strokeJoin": "round", "strokeCap": "round"}},
        {"mark": {"type": "square", "filled": true, "size": 0}}
      ]
    }
  ]
}
